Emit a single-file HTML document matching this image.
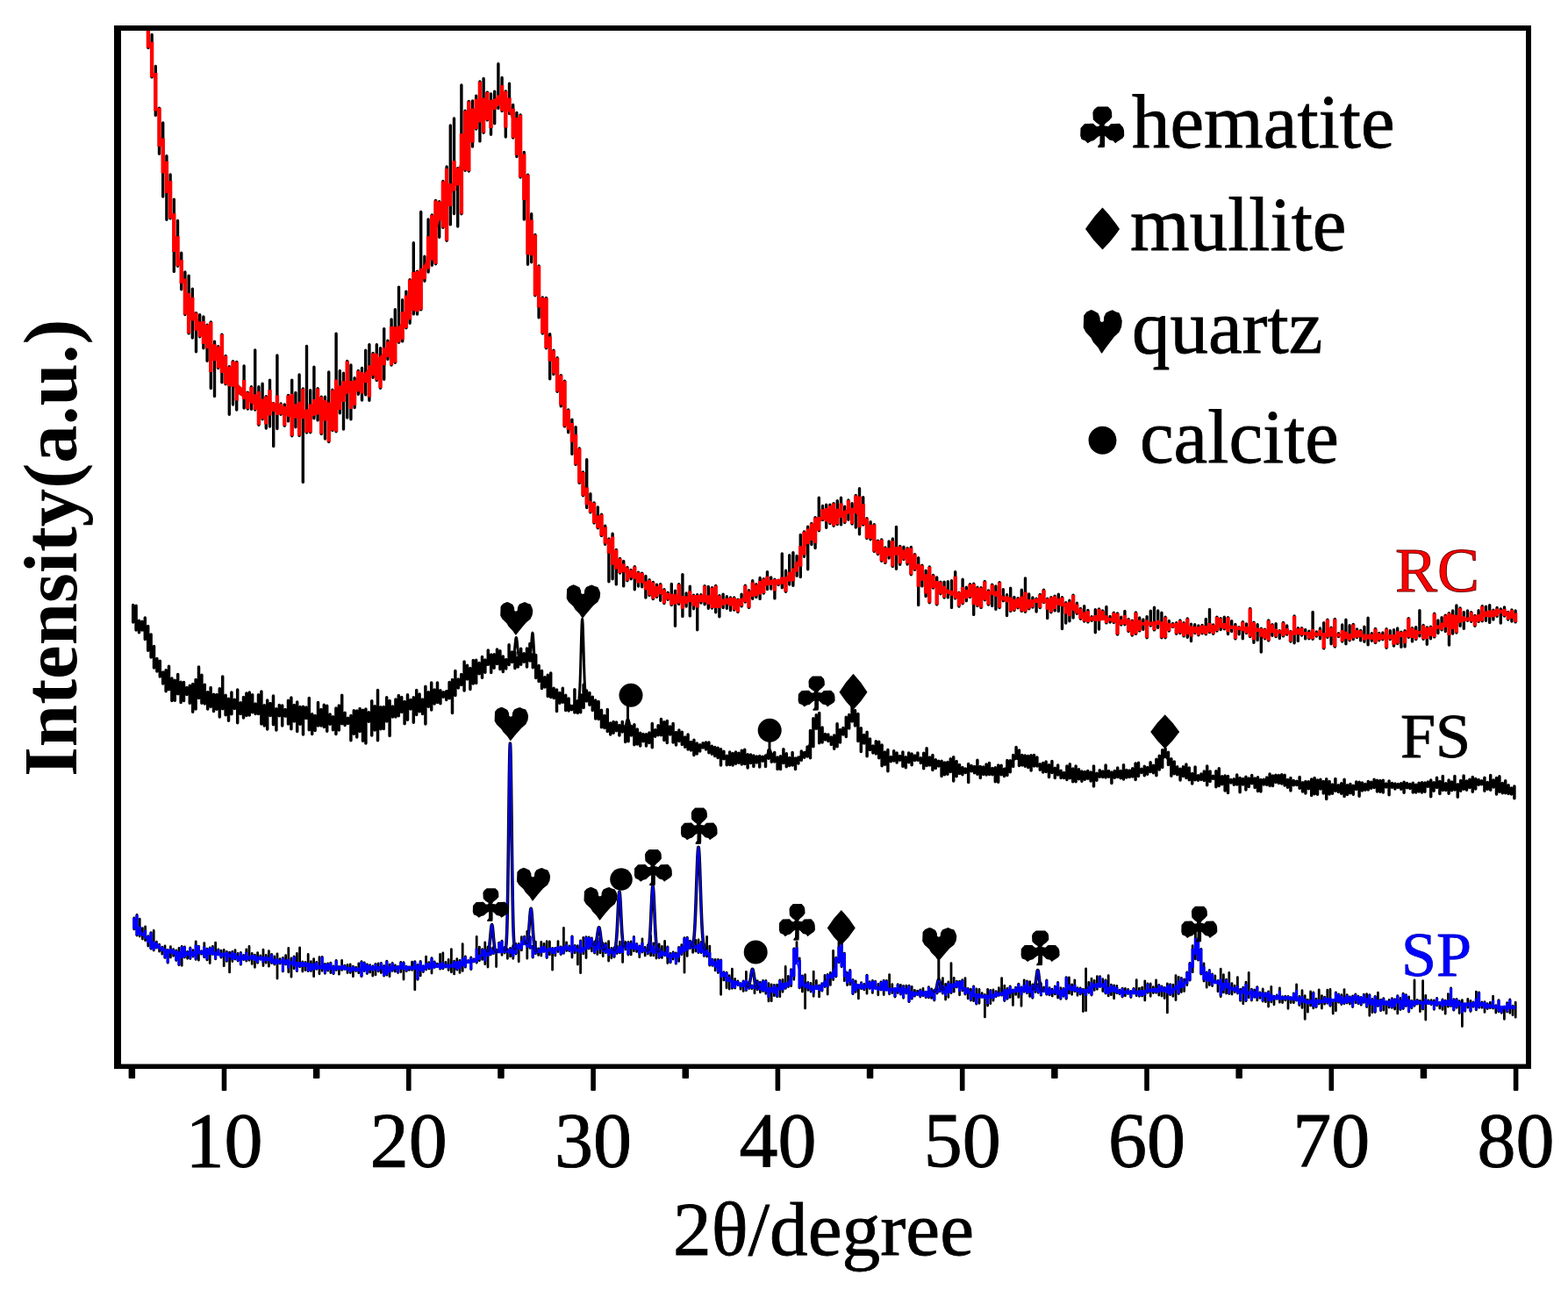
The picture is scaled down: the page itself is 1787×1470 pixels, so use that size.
<!DOCTYPE html>
<html><head><meta charset="utf-8"><style>
html,body{margin:0;padding:0;background:#fff;}
body{width:1787px;height:1470px;overflow:hidden;}
svg{display:block;}
text{font-family:"Liberation Serif","Times New Roman",serif;}
</style></head><body>
<svg width="1787" height="1470" viewBox="0 0 1787 1470">
<rect width="1787" height="1470" fill="#fff"/>
<defs><clipPath id="c"><rect x="134" y="32" width="1608" height="1183"/></clipPath></defs>
<g clip-path="url(#c)" fill="none" stroke-linejoin="round" stroke-linecap="round">
<path d="M152.1 -56.4V-38.9M156.3 -43.9V-13.4M160.5 -28.6V7.6M164.7 -4.1V23.8M168.9 16.5V54.6M173.1 39.4V87.9M177.3 75.5V131.4M181.5 123.1V175.2M185.7 140.0V224.1M189.9 177.8V250.3M194.1 198.9V248.9M198.3 227.3V309.4M202.5 251.5V303.2M206.7 288.2V329.7M210.9 310.0V358.6M215.1 314.1V379.9M219.3 329.3V385.1M223.5 356.6V400.8M227.7 358.8V383.8M231.9 360.9V396.7M236.1 370.1V411.3M240.3 367.0V442.5M244.5 389.1V451.5M248.7 394.7V419.5M252.9 381.1V435.8M257.1 405.5V437.7M261.3 417.7V472.2M265.5 411.6V461.0M269.7 412.5V467.0M273.9 442.1V448.7M278.1 416.9V465.0M282.3 447.3V466.1M286.5 440.8V466.3M290.7 399.0V467.0M294.9 440.7V484.3M299.1 437.2V477.8M303.3 451.6V488.1M307.5 433.1V486.1M311.7 459.6V508.5M315.9 405.0V488.6M320.1 460.0V472.3M324.3 461.0V485.3M328.5 450.5V479.9M332.7 433.1V496.7M336.9 447.5V486.8M341.1 427.0V496.5M345.3 443.0V549.4M349.5 394.5V493.0M353.7 444.8V492.7M357.9 418.3V476.7M362.1 442.8V478.9M366.3 452.3V494.6M370.5 452.3V500.0M374.7 423.9V503.5M378.9 444.3V490.5M383.1 380.3V491.7M387.3 422.5V470.7M391.5 425.1V489.1M395.7 411.5V476.0M399.9 416.0V477.7M404.1 430.6V464.5M408.3 422.4V449.2M412.5 419.5V456.1M416.7 399.2V449.9M420.9 392.6V456.2M425.1 402.5V430.3M429.3 392.7V433.6M433.5 396.8V442.2M437.7 374.6V432.3M441.9 388.1V409.4M446.1 363.9V416.0M450.3 352.7V413.3M454.5 327.1V390.3M458.7 341.8V388.9M462.9 332.1V373.7M467.1 318.6V368.2M471.3 276.8V357.9M475.5 309.1V358.1M479.7 241.5V352.9M483.9 292.3V320.3M488.1 250.0V310.1M492.3 244.9V302.3M496.5 228.4V300.7M500.7 229.7V270.2M504.9 206.5V259.3M509.1 189.9V274.3M513.3 142.9V255.9M517.5 135.0V243.6M521.7 191.6V258.1M525.9 97.0V243.8M530.1 126.3V194.3M534.3 115.4V195.1M538.5 115.0V167.1M542.7 109.1V147.0M546.9 93.0V160.9M551.1 89.4V151.3M555.3 105.1V136.9M559.5 106.9V153.2M563.7 104.1V140.8M567.9 72.7V123.4M572.1 88.5V126.6M576.3 104.0V156.1M580.5 95.2V129.4M584.7 119.4V157.1M588.9 128.4V178.5M593.1 130.9V202.1M597.3 173.5V250.1M601.5 199.1V301.3M605.7 243.8V298.8M609.9 267.5V336.8M614.1 302.9V361.9M618.3 339.0V380.1M622.5 339.4V396.8M626.7 380.8V431.8M630.9 399.2V426.5M635.1 407.8V446.2M639.3 427.6V462.9M643.5 434.1V485.9M647.7 467.0V492.7M651.9 478.1V517.4M656.1 486.6V529.4M660.3 510.9V550.4M664.5 537.9V564.8M668.7 523.8V578.6M672.9 562.6V583.9M677.1 573.0V596.0M681.3 577.9V601.7M685.5 586.3V610.5M689.7 599.3V620.2M693.9 614.0V662.7M698.1 608.3V659.8M702.3 626.5V665.9M706.5 636.5V653.1M710.7 639.5V667.9M714.9 646.4V661.7M719.1 649.4V659.7M723.3 645.8V671.8M727.5 652.2V668.1M731.7 653.1V668.7M735.9 656.5V681.1M740.1 660.8V678.5M744.3 663.4V682.6M748.5 666.2V680.2M752.7 665.8V684.2M756.9 671.8V687.6M761.1 675.1V683.2M765.3 665.5V689.5M769.5 673.3V713.3M773.7 665.8V688.4M777.9 654.6V702.4M782.1 676.0V691.1M786.3 668.2V701.9M790.5 678.1V693.8M794.7 677.7V717.7M798.9 677.7V687.0M803.1 667.6V688.8M807.3 668.4V693.2M811.5 669.7V693.0M815.7 667.5V697.8M819.9 678.7V702.7M824.1 677.1V692.6M828.3 679.8V693.3M832.5 680.9V695.6M836.7 681.0V695.0M840.9 683.3V697.4M845.1 677.1V690.9M849.3 667.3V686.0M853.5 672.6V692.4M857.7 661.8V682.3M861.9 665.8V680.6M866.1 658.5V682.4M870.3 659.6V676.1M874.5 651.6V671.6M878.7 658.0V671.1M882.9 660.1V681.9M887.1 661.2V666.5M891.3 630.9V669.7M895.5 650.3V674.2M899.7 632.7V666.0M903.9 629.6V667.3M908.1 633.4V656.2M912.3 609.4V657.6M916.5 605.9V634.3M920.7 600.1V648.8M924.9 596.5V620.5M929.1 589.7V624.5M933.3 567.1V604.8M937.5 576.4V592.6M941.7 575.2V601.2M945.9 575.2V596.5M950.1 573.6V599.2M954.3 570.6V597.5M958.5 567.2V597.9M962.7 577.3V595.6M966.9 569.9V592.2M971.1 573.7V597.1M975.3 564.5V601.0M979.5 556.8V608.8M983.7 566.6V598.1M987.9 590.8V613.6M992.1 594.7V614.7M996.3 597.7V628.4M1000.5 616.3V631.6M1004.7 614.9V639.2M1008.9 623.9V641.4M1013.1 616.9V636.0M1017.3 613.9V645.5M1021.5 600.4V648.2M1025.7 622.5V643.3M1029.9 623.1V637.5M1034.1 624.6V643.0M1038.3 623.5V654.8M1042.5 631.6V649.2M1046.7 635.6V689.5M1050.9 644.3V667.9M1055.1 650.2V679.5M1059.3 646.0V686.7M1063.5 655.5V670.0M1067.7 657.9V688.9M1071.9 663.2V676.7M1076.1 663.1V681.0M1080.3 662.7V680.9M1084.5 661.8V692.4M1088.7 651.6V681.9M1092.9 675.2V691.0M1097.1 660.3V687.7M1101.3 669.2V684.7M1105.5 665.7V680.4M1109.7 665.3V700.4M1113.9 669.3V690.4M1118.1 669.7V692.4M1122.3 662.5V683.8M1126.5 672.9V689.1M1130.7 666.3V690.4M1134.9 668.0V694.2M1139.1 663.6V692.6M1143.3 671.6V684.8M1147.5 677.6V701.5M1151.7 670.1V696.4M1155.9 680.4V695.6M1160.1 681.7V692.7M1164.3 672.2V696.4M1168.5 658.9V697.3M1172.7 676.9V693.7M1176.9 680.9V692.0M1181.1 682.1V697.1M1185.3 677.5V692.6M1189.5 672.3V686.5M1193.7 682.2V704.6M1197.9 680.6V697.7M1202.1 679.3V695.9M1206.3 677.3V696.6M1210.5 680.7V716.5M1214.7 686.8V710.0M1218.9 684.2V707.8M1223.1 678.1V704.0M1227.3 687.3V699.3M1231.5 693.5V705.3M1235.7 690.8V708.1M1239.9 695.4V708.9M1244.1 702.7V707.3M1248.3 694.7V720.8M1252.5 693.9V717.0M1256.7 695.9V705.4M1260.9 691.5V709.9M1265.1 702.4V709.1M1269.3 698.3V709.6M1273.5 699.0V723.1M1277.7 703.3V712.1M1281.9 696.4V711.7M1286.1 705.5V719.6M1290.3 707.1V724.1M1294.5 698.0V722.2M1298.7 704.0V718.9M1302.9 706.0V717.2M1307.1 702.6V726.8M1311.3 696.1V713.0M1315.5 692.2V717.9M1319.7 696.0V715.3M1323.9 698.3V726.8M1328.1 703.2V726.7M1332.3 707.5V719.1M1336.5 710.5V714.4M1340.7 709.7V722.2M1344.9 706.9V721.6M1349.1 709.7V724.9M1353.3 705.0V726.2M1357.5 711.3V730.6M1361.7 711.8V721.5M1365.9 712.9V723.7M1370.1 712.5V721.7M1374.3 705.4V722.7M1378.5 694.5V720.6M1382.7 712.0V722.2M1386.9 703.1V719.1M1391.1 704.6V717.6M1395.3 703.3V716.7M1399.5 703.6V722.5M1403.7 707.6V719.5M1407.9 711.5V727.9M1412.1 714.6V722.7M1416.3 708.8V727.7M1420.5 710.9V721.5M1424.7 693.5V725.6M1428.9 709.1V732.2M1433.1 711.6V729.6M1437.3 716.1V743.1M1441.5 717.2V727.8M1445.7 707.0V729.9M1449.9 711.6V724.3M1454.1 710.8V725.6M1458.3 718.6V727.4M1462.5 709.5V724.9M1466.7 712.9V723.0M1470.9 719.5V731.1M1475.1 702.0V732.8M1479.3 715.7V730.4M1483.5 715.6V724.0M1487.7 717.5V727.9M1491.9 719.3V727.7M1496.1 697.5V728.2M1500.3 719.9V725.1M1504.5 715.9V727.8M1508.7 709.7V738.9M1512.9 706.1V726.2M1517.1 715.2V733.7M1521.3 705.5V737.0M1525.5 721.7V725.4M1529.7 711.9V731.0M1533.9 706.2V733.8M1538.1 712.7V729.8M1542.3 711.4V728.5M1546.5 716.9V726.4M1550.7 718.5V729.9M1554.9 714.2V731.2M1559.1 704.2V734.8M1563.3 721.6V730.3M1567.5 716.5V732.6M1571.7 721.5V729.7M1575.9 721.0V728.7M1580.1 716.7V738.2M1584.3 718.8V728.6M1588.5 717.6V736.0M1592.7 716.0V733.5M1596.9 720.2V737.3M1601.1 718.6V736.9M1605.3 704.6V726.3M1609.5 715.6V730.9M1613.7 714.7V728.5M1617.9 695.8V724.9M1622.1 712.4V728.3M1626.3 715.0V734.2M1630.5 714.2V727.7M1634.7 699.2V725.9M1638.9 706.9V721.6M1643.1 703.6V717.8M1647.3 701.3V719.6M1651.5 698.6V735.0M1655.7 695.9V722.0M1659.9 690.0V721.1M1664.1 692.9V713.2M1668.3 697.6V716.2M1672.5 695.9V707.2M1676.7 697.6V708.3M1680.9 701.4V713.3M1685.1 695.8V708.4M1689.3 690.8V707.8M1693.5 691.1V707.2M1697.7 689.6V709.4M1701.9 695.2V706.0M1706.1 692.4V702.3M1710.3 693.9V710.1M1714.5 692.0V702.1M1718.7 697.5V706.0M1722.9 694.9V708.0M1727.1 695.9V708.9" stroke="#000" stroke-width="3.4" stroke-linecap="round"/>
<polygon points="152.1,-42.3 156.3,-28.2 160.5,-8.6 164.7,13.4 168.9,39.0 173.1,69.8 177.3,104.9 181.5,141.4 185.7,175.5 189.9,204.6 194.1,230.9 198.3,257.5 202.5,283.1 206.7,306.0 210.9,325.3 215.1,339.8 219.3,350.6 223.5,359.8 227.7,368.2 231.9,375.8 236.1,383.2 240.3,390.3 244.5,397.4 248.7,404.2 252.9,410.9 257.1,417.3 261.3,423.5 265.5,429.4 269.7,435.1 273.9,440.2 278.1,444.2 282.3,447.2 286.5,449.6 290.7,451.8 294.9,453.6 299.1,455.1 303.3,456.3 307.5,457.5 311.7,458.8 315.9,460.2 320.1,461.7 324.3,463.3 328.5,464.7 332.7,465.8 336.9,466.5 341.1,467.0 345.3,467.1 349.5,466.4 353.7,465.1 357.9,463.5 362.1,462.2 366.3,461.5 370.5,461.1 374.7,460.0 378.9,457.0 383.1,452.5 387.3,447.3 391.5,442.3 395.7,438.4 399.9,435.7 404.1,433.6 408.3,431.2 412.5,427.9 416.7,423.7 420.9,419.1 425.1,414.5 429.3,410.1 433.5,405.6 437.7,400.9 441.9,395.3 446.1,388.6 450.3,381.0 454.5,373.1 458.7,364.9 462.9,356.5 467.1,347.4 471.3,336.9 475.5,325.3 479.7,313.7 483.9,301.8 488.1,287.7 492.3,271.2 496.5,254.7 500.7,241.0 504.9,229.9 509.1,220.6 513.3,212.5 517.5,204.5 521.7,194.5 525.9,181.5 530.1,166.4 534.3,151.0 538.5,137.0 542.7,126.3 546.9,119.7 551.1,116.1 555.3,114.6 559.5,114.0 563.7,112.4 567.9,109.7 572.1,108.2 576.3,110.7 580.5,117.5 584.7,128.4 588.9,144.6 593.1,168.2 597.3,198.8 601.5,232.7 605.7,267.2 609.9,299.8 614.1,327.9 618.3,351.0 622.5,371.4 626.7,391.0 630.9,410.2 635.1,428.7 639.3,446.5 643.5,463.2 647.7,478.2 651.9,492.6 656.1,508.7 660.3,527.2 664.5,545.8 668.7,561.6 672.9,573.4 677.1,582.0 681.3,589.3 685.5,597.9 689.7,608.5 693.9,619.8 698.1,629.7 702.3,637.1 706.5,642.3 710.7,646.4 714.9,649.7 719.1,652.5 723.3,655.0 727.5,657.5 731.7,660.0 735.9,662.7 740.1,665.4 744.3,668.1 748.5,670.6 752.7,672.7 756.9,674.3 761.1,675.7 765.3,676.9 769.5,677.8 773.7,678.5 777.9,679.0 782.1,679.5 786.3,680.0 790.5,680.5 794.7,681.0 798.9,681.4 803.1,681.7 807.3,682.1 811.5,682.5 815.7,682.9 819.9,683.1 824.1,683.1 828.3,683.2 832.5,683.1 836.7,683.1 840.9,682.8 845.1,681.7 849.3,679.1 853.5,674.9 857.7,670.4 861.9,666.8 866.1,664.5 870.3,663.1 874.5,662.0 878.7,661.2 882.9,660.5 887.1,659.9 891.3,658.9 895.5,657.2 899.7,654.2 903.9,649.2 908.1,641.2 912.3,631.0 916.5,620.9 920.7,612.1 924.9,604.4 929.1,597.4 933.3,591.2 937.5,585.9 941.7,582.2 945.9,581.4 950.1,582.8 954.3,584.1 958.5,583.6 962.7,581.6 966.9,579.5 971.1,578.4 975.3,579.6 979.5,583.7 983.7,589.8 987.9,596.9 992.1,604.6 996.3,612.0 1000.5,618.2 1004.7,622.5 1008.9,624.5 1013.1,624.4 1017.3,623.5 1021.5,623.3 1025.7,624.5 1029.9,626.7 1034.1,629.7 1038.3,634.3 1042.5,640.6 1046.7,647.2 1050.9,652.5 1055.1,656.4 1059.3,659.6 1063.5,662.6 1067.7,665.3 1071.9,667.8 1076.1,670.1 1080.3,671.8 1084.5,673.0 1088.7,673.8 1092.9,674.5 1097.1,674.9 1101.3,675.1 1105.5,675.1 1109.7,675.0 1113.9,674.7 1118.1,674.2 1122.3,673.6 1126.5,673.2 1130.7,673.5 1134.9,675.0 1139.1,677.3 1143.3,679.3 1147.5,680.9 1151.7,682.1 1155.9,683.1 1160.1,683.6 1164.3,683.6 1168.5,683.4 1172.7,683.1 1176.9,682.9 1181.1,682.7 1185.3,682.7 1189.5,682.9 1193.7,683.3 1197.9,683.7 1202.1,684.5 1206.3,685.5 1210.5,686.8 1214.7,688.2 1218.9,689.7 1223.1,691.7 1227.3,694.4 1231.5,697.7 1235.7,700.7 1239.9,702.5 1244.1,703.1 1248.3,703.0 1252.5,702.7 1256.7,702.7 1260.9,703.2 1265.1,703.9 1269.3,704.7 1273.5,705.6 1277.7,706.4 1281.9,707.1 1286.1,707.7 1290.3,708.2 1294.5,708.6 1298.7,708.9 1302.9,708.9 1307.1,708.7 1311.3,708.4 1315.5,708.1 1319.7,708.2 1323.9,708.6 1328.1,709.3 1332.3,710.1 1336.5,710.9 1340.7,711.5 1344.9,712.1 1349.1,712.7 1353.3,713.3 1357.5,713.8 1361.7,714.2 1365.9,714.2 1370.1,713.8 1374.3,713.3 1378.5,712.7 1382.7,712.2 1386.9,711.7 1391.1,711.6 1395.3,711.8 1399.5,712.3 1403.7,712.8 1407.9,713.4 1412.1,714.0 1416.3,714.5 1420.5,714.9 1424.7,715.3 1428.9,715.7 1433.1,716.0 1437.3,716.3 1441.5,716.7 1445.7,717.0 1449.9,717.3 1454.1,717.7 1458.3,718.0 1462.5,718.3 1466.7,718.6 1470.9,718.9 1475.1,719.1 1479.3,719.4 1483.5,719.6 1487.7,719.9 1491.9,720.1 1496.1,720.4 1500.3,720.6 1504.5,720.9 1508.7,721.1 1512.9,721.4 1517.1,721.5 1521.3,721.7 1525.5,721.7 1529.7,721.8 1533.9,721.9 1538.1,722.0 1542.3,722.1 1546.5,722.3 1550.7,722.4 1554.9,722.6 1559.1,722.8 1563.3,722.9 1567.5,723.0 1571.7,723.0 1575.9,723.0 1580.1,723.0 1584.3,723.0 1588.5,722.9 1592.7,722.7 1596.9,722.2 1601.1,721.7 1605.3,721.1 1609.5,720.5 1613.7,719.8 1617.9,718.9 1622.1,717.8 1626.3,716.5 1630.5,715.3 1634.7,714.0 1638.9,712.7 1643.1,711.5 1647.3,710.4 1651.5,709.2 1655.7,708.0 1659.9,706.9 1664.1,705.8 1668.3,704.6 1672.5,703.5 1676.7,702.4 1680.9,701.3 1685.1,700.2 1689.3,699.1 1693.5,698.0 1697.7,697.0 1701.9,696.0 1706.1,695.1 1710.3,694.8 1714.5,695.4 1718.7,696.9 1722.9,698.6 1727.1,699.8 1727.1,703.7 1722.9,702.5 1718.7,700.8 1714.5,699.3 1710.3,698.7 1706.1,699.0 1701.9,699.9 1697.7,700.9 1693.5,701.9 1689.3,703.0 1685.1,704.1 1680.9,705.2 1676.7,706.3 1672.5,707.4 1668.3,708.5 1664.1,709.7 1659.9,710.8 1655.7,711.9 1651.5,713.1 1647.3,714.3 1643.1,715.4 1638.9,716.6 1634.7,717.9 1630.5,719.2 1626.3,720.4 1622.1,721.7 1617.9,722.8 1613.7,723.7 1609.5,724.4 1605.3,725.0 1601.1,725.6 1596.9,726.1 1592.7,726.6 1588.5,726.8 1584.3,726.9 1580.1,726.9 1575.9,726.9 1571.7,726.9 1567.5,726.9 1563.3,726.8 1559.1,726.7 1554.9,726.5 1550.7,726.3 1546.5,726.2 1542.3,726.0 1538.1,725.9 1533.9,725.8 1529.7,725.7 1525.5,725.6 1521.3,725.6 1517.1,725.4 1512.9,725.3 1508.7,725.0 1504.5,724.8 1500.3,724.5 1496.1,724.3 1491.9,724.0 1487.7,723.8 1483.5,723.5 1479.3,723.3 1475.1,723.0 1470.9,722.8 1466.7,722.5 1462.5,722.2 1458.3,721.9 1454.1,721.6 1449.9,721.2 1445.7,720.9 1441.5,720.6 1437.3,720.2 1433.1,719.9 1428.9,719.6 1424.7,719.2 1420.5,718.8 1416.3,718.4 1412.1,717.9 1407.9,717.3 1403.7,716.7 1399.5,716.2 1395.3,715.7 1391.1,715.5 1386.9,715.6 1382.7,716.1 1378.5,716.6 1374.3,717.2 1370.1,717.7 1365.9,718.1 1361.7,718.1 1357.5,717.7 1353.3,717.2 1349.1,716.6 1344.9,716.0 1340.7,715.4 1336.5,714.8 1332.3,714.0 1328.1,713.2 1323.9,712.5 1319.7,712.1 1315.5,712.0 1311.3,712.3 1307.1,712.6 1302.9,712.8 1298.7,712.8 1294.5,712.6 1290.3,712.2 1286.1,711.7 1281.9,711.1 1277.7,710.4 1273.5,709.6 1269.3,708.7 1265.1,707.9 1260.9,707.2 1256.7,706.8 1252.5,706.8 1248.3,707.1 1244.1,707.2 1239.9,706.7 1235.7,704.8 1231.5,701.8 1227.3,698.6 1223.1,695.9 1218.9,693.9 1214.7,692.4 1210.5,691.0 1206.3,689.8 1202.1,688.7 1197.9,688.1 1193.7,687.6 1189.5,687.2 1185.3,687.0 1181.1,687.0 1176.9,687.2 1172.7,687.5 1168.5,687.8 1164.3,688.0 1160.1,688.0 1155.9,687.5 1151.7,686.6 1147.5,685.4 1143.3,683.9 1139.1,681.8 1134.9,679.6 1130.7,678.1 1126.5,677.8 1122.3,678.3 1118.1,678.9 1113.9,679.5 1109.7,679.8 1105.5,680.0 1101.3,680.0 1097.1,679.9 1092.9,679.5 1088.7,678.8 1084.5,678.0 1080.3,676.8 1076.1,675.2 1071.9,673.0 1067.7,670.5 1063.5,667.8 1059.3,664.9 1055.1,661.7 1050.9,657.8 1046.7,652.5 1042.5,645.9 1038.3,639.7 1034.1,635.2 1029.9,632.1 1025.7,630.0 1021.5,628.8 1017.3,629.0 1013.1,630.0 1008.9,630.2 1004.7,628.2 1000.5,623.9 996.3,617.7 992.1,610.3 987.9,602.6 983.7,595.5 979.5,589.4 975.3,585.3 971.1,584.1 966.9,585.2 962.7,587.3 958.5,589.3 954.3,589.8 950.1,588.5 945.9,587.1 941.7,587.9 937.5,591.6 933.3,596.9 929.1,603.1 924.9,610.1 920.7,617.8 916.5,626.6 912.3,636.7 908.1,646.9 903.9,654.9 899.7,659.9 895.5,662.8 891.3,664.5 887.1,665.5 882.9,666.1 878.7,666.7 874.5,667.5 870.3,668.5 866.1,669.9 861.9,672.2 857.7,675.8 853.5,680.2 849.3,684.3 845.1,687.0 840.9,688.0 836.7,688.2 832.5,688.3 828.3,688.2 824.1,688.2 819.9,688.1 815.7,687.8 811.5,687.5 807.3,687.0 803.1,686.6 798.9,686.2 794.7,685.7 790.5,685.3 786.3,684.8 782.1,684.2 777.9,683.7 773.7,683.1 769.5,682.4 765.3,681.4 761.1,680.2 756.9,678.8 752.7,677.2 748.5,675.1 744.3,672.7 740.1,670.0 735.9,667.2 731.7,664.6 727.5,662.1 723.3,659.7 719.1,657.2 714.9,654.4 710.7,651.1 706.5,647.0 702.3,641.8 698.1,634.5 693.9,624.5 689.7,613.3 685.5,602.6 681.3,594.1 677.1,586.8 672.9,578.4 668.7,566.6 664.5,551.0 660.3,532.5 656.1,514.1 651.9,498.1 647.7,483.8 643.5,468.9 639.3,452.3 635.1,434.5 630.9,416.2 626.7,397.6 622.5,378.6 618.3,358.9 614.1,336.5 609.9,309.0 605.7,277.1 601.5,243.3 597.3,209.6 593.1,179.1 588.9,155.5 584.7,139.3 580.5,128.5 576.3,121.7 572.1,119.2 567.9,120.7 563.7,123.5 559.5,125.1 555.3,125.7 551.1,127.3 546.9,130.9 542.7,137.5 538.5,148.3 534.3,162.3 530.1,177.7 525.9,192.8 521.7,205.9 517.5,215.8 513.3,223.7 509.1,231.7 504.9,240.8 500.7,251.8 496.5,265.4 492.3,281.7 488.1,298.2 483.9,312.1 479.7,323.9 475.5,335.5 471.3,347.1 467.1,357.6 462.9,366.7 458.7,375.1 454.5,383.3 450.3,391.2 446.1,398.8 441.9,405.5 437.7,411.1 433.5,415.8 429.3,420.3 425.1,424.7 420.9,429.3 416.7,433.9 412.5,438.1 408.3,441.4 404.1,443.8 399.9,445.9 395.7,448.6 391.5,452.5 387.3,457.5 383.1,462.7 378.9,467.2 374.7,470.2 370.5,471.3 366.3,471.7 362.1,472.4 357.9,473.7 353.7,475.3 349.5,476.6 345.3,477.3 341.1,477.2 336.9,476.7 332.7,476.0 328.5,474.9 324.3,473.5 320.1,471.9 315.9,470.4 311.7,469.0 307.5,467.7 303.3,466.5 299.1,465.3 294.9,463.8 290.7,461.9 286.5,459.7 282.3,457.3 278.1,454.2 273.9,450.2 269.7,445.1 265.5,439.3 261.3,433.4 257.1,427.1 252.9,420.7 248.7,414.0 244.5,407.1 240.3,400.0 236.1,392.8 231.9,385.5 227.7,377.5 223.5,368.6 219.3,358.8 215.1,347.4 210.9,332.3 206.7,312.4 202.5,288.9 198.3,262.8 194.1,235.7 189.9,208.8 185.7,179.4 181.5,144.9 177.3,108.1 173.1,72.7 168.9,41.6 164.7,15.7 160.5,-6.7 156.3,-26.5 152.1,-40.9" fill="#ff0000" stroke="none"/>
<path d="M152.1 -56.2V-38.9M156.3 -43.9V-17.6M160.5 -23.2V7.6M164.7 -0.1V23.8M168.9 22.1V54.6M173.1 47.7V87.9M177.3 82.9V126.5M181.5 123.1V166.9M185.7 157.6V197.4M189.9 183.7V220.1M194.1 205.9V248.9M198.3 243.2V287.1M202.5 269.2V303.2M206.7 295.9V323.0M210.9 317.5V358.6M215.1 334.0V379.9M219.3 338.8V365.5M223.5 356.6V376.8M227.7 366.5V383.8M231.9 366.1V392.0M236.1 370.1V397.3M240.3 367.0V423.9M244.5 392.3V411.3M248.7 394.7V419.5M252.9 381.1V425.0M257.1 405.5V437.7M261.3 417.7V440.3M265.5 411.6V440.7M269.7 412.5V456.6M273.9 442.5V448.7M278.1 433.1V455.0M282.3 447.3V466.1M286.5 441.0V456.6M290.7 449.3V467.0M294.9 445.9V484.3M299.1 454.5V477.6M303.3 451.6V483.6M307.5 444.2V473.5M311.7 459.6V466.3M315.9 450.6V473.1M320.1 460.0V472.3M324.3 463.3V485.3M328.5 450.5V472.6M332.7 448.8V496.7M336.9 460.2V472.6M341.1 457.7V496.5M345.3 443.0V475.5M349.5 469.1V493.0M353.7 460.4V492.7M357.9 455.1V471.4M362.1 442.8V469.0M366.3 452.3V494.6M370.5 455.7V479.4M374.7 458.5V503.5M378.9 444.5V490.5M383.1 432.6V491.7M387.3 439.2V466.9M391.5 434.2V458.0M395.7 411.5V447.5M399.9 433.9V466.1M404.1 433.7V461.9M408.3 422.4V446.3M412.5 424.0V448.5M416.7 426.3V436.2M420.9 416.2V452.4M425.1 402.5V427.9M429.3 402.9V433.3M433.5 407.0V442.2M437.7 395.9V416.2M441.9 389.3V406.7M446.1 371.9V416.0M450.3 372.2V413.3M454.5 371.4V390.3M458.7 355.3V387.0M462.9 336.6V373.7M467.1 318.6V364.2M471.3 310.1V354.3M475.5 309.1V355.2M479.7 305.7V352.9M483.9 301.7V318.2M488.1 269.3V306.6M492.3 244.9V296.8M496.5 228.4V300.7M500.7 229.7V251.2M504.9 206.5V259.3M509.1 191.9V274.3M513.3 209.1V234.9M517.5 183.2V217.4M521.7 191.6V211.6M525.9 152.2V243.8M530.1 126.3V194.3M534.3 115.4V195.1M538.5 123.4V162.5M542.7 112.8V147.0M546.9 93.0V139.5M551.1 111.6V151.3M555.3 105.1V136.9M559.5 114.0V145.9M563.7 117.1V125.0M567.9 108.4V118.5M572.1 96.9V126.6M576.3 104.0V145.4M580.5 111.6V127.0M584.7 123.7V157.1M588.9 133.9V176.7M593.1 130.9V202.1M597.3 175.4V227.9M601.5 199.1V290.3M605.7 250.6V291.3M609.9 267.5V336.8M614.1 302.9V350.6M618.3 339.0V380.1M622.5 339.4V396.8M626.7 383.5V411.8M630.9 399.2V425.5M635.1 407.8V446.2M639.3 427.6V461.5M643.5 434.1V485.9M647.7 467.0V489.8M651.9 481.9V503.8M656.1 494.9V529.4M660.3 510.9V550.4M664.5 537.9V564.8M668.7 555.5V575.3M672.9 571.0V583.9M677.1 573.0V596.0M681.3 587.5V601.7M685.5 586.3V610.5M689.7 600.6V619.4M693.9 614.0V630.7M698.1 611.5V643.7M702.3 626.5V648.5M706.5 636.5V653.1M710.7 642.4V652.3M714.9 646.4V661.7M719.1 649.4V658.3M723.3 645.8V659.4M727.5 652.2V664.6M731.7 653.1V663.8M735.9 662.7V672.2M740.1 660.8V678.5M744.3 663.4V682.6M748.5 668.1V680.2M752.7 665.8V677.1M756.9 671.8V687.6M761.1 676.5V683.2M765.3 676.7V689.5M769.5 677.3V688.7M773.7 665.8V687.5M777.9 680.5V693.7M782.1 679.8V688.3M786.3 673.6V686.3M790.5 678.1V690.6M794.7 678.0V692.5M798.9 677.7V685.4M803.1 667.6V684.6M807.3 678.2V688.8M811.5 669.7V693.0M815.7 667.5V693.1M819.9 678.7V693.1M824.1 682.5V689.9M828.3 681.8V688.6M832.5 680.9V690.6M836.7 681.0V695.0M840.9 683.9V697.4M845.1 683.2V690.6M849.3 667.3V686.0M853.5 673.8V692.4M857.7 663.6V680.0M861.9 666.4V679.3M866.1 662.1V677.4M870.3 659.6V676.1M874.5 656.7V665.6M878.7 660.7V666.1M882.9 660.1V673.5M887.1 661.7V666.5M891.3 657.5V665.7M895.5 657.8V674.2M899.7 651.7V662.8M903.9 647.6V662.2M908.1 639.9V651.4M912.3 622.3V645.7M916.5 605.9V632.4M920.7 602.4V620.0M924.9 596.5V616.1M929.1 589.7V618.9M933.3 589.1V604.8M937.5 580.3V592.6M941.7 579.1V594.5M945.9 576.3V596.5M950.1 573.6V599.2M954.3 579.7V597.5M958.5 573.4V590.0M962.7 582.8V595.6M966.9 569.9V585.5M971.1 579.3V597.1M975.3 564.5V584.0M979.5 565.6V600.9M983.7 574.3V598.1M987.9 590.8V613.6M992.1 597.8V614.0M996.3 597.7V628.4M1000.5 616.3V631.6M1004.7 614.9V639.2M1008.9 623.9V641.4M1013.1 624.3V633.9M1017.3 616.2V645.5M1021.5 623.3V632.8M1025.7 622.5V642.2M1029.9 626.8V637.5M1034.1 624.6V642.0M1038.3 624.6V654.8M1042.5 631.6V649.2M1046.7 642.5V668.7M1050.9 644.3V661.8M1055.1 654.3V676.4M1059.3 646.0V686.7M1063.5 655.5V670.0M1067.7 662.1V688.9M1071.9 663.2V676.7M1076.1 667.8V681.0M1080.3 672.9V676.1M1084.5 674.4V678.7M1088.7 656.7V681.9M1092.9 675.2V691.0M1097.1 669.0V687.7M1101.3 671.9V682.2M1105.5 665.7V680.4M1109.7 665.3V689.0M1113.9 669.4V690.4M1118.1 669.7V692.4M1122.3 662.5V683.8M1126.5 674.7V689.1M1130.7 666.3V675.8M1134.9 673.4V679.5M1139.1 663.6V692.6M1143.3 679.9V684.3M1147.5 679.2V686.2M1151.7 680.6V696.4M1155.9 682.8V695.6M1160.1 681.7V692.7M1164.3 679.4V696.4M1168.5 674.6V697.3M1172.7 683.5V693.7M1176.9 683.4V692.0M1181.1 682.1V686.0M1185.3 677.5V692.6M1189.5 672.3V686.5M1193.7 682.2V694.8M1197.9 680.6V697.7M1202.1 679.3V694.1M1206.3 681.7V689.0M1210.5 680.7V690.9M1214.7 686.8V699.5M1218.9 685.7V702.3M1223.1 678.1V694.6M1227.3 688.7V699.3M1231.5 693.5V705.3M1235.7 697.4V708.1M1239.9 696.2V708.9M1244.1 702.7V707.3M1248.3 701.0V707.8M1252.5 693.9V708.0M1256.7 695.9V705.4M1260.9 701.3V709.9M1265.1 705.3V706.5M1269.3 698.3V709.6M1273.5 699.0V723.1M1277.7 705.7V712.1M1281.9 701.1V711.5M1286.1 705.5V719.6M1290.3 707.1V724.1M1294.5 698.0V722.2M1298.7 706.4V718.9M1302.9 709.2V711.9M1307.1 706.4V726.8M1311.3 709.0V713.0M1315.5 709.4V717.9M1319.7 706.7V711.5M1323.9 708.7V726.8M1328.1 703.2V726.7M1332.3 710.7V719.1M1336.5 710.6V714.4M1340.7 709.7V722.2M1344.9 706.9V721.6M1349.1 709.7V724.9M1353.3 705.0V722.9M1357.5 713.3V725.5M1361.7 714.3V721.5M1365.9 713.9V723.7M1370.1 712.5V721.7M1374.3 713.2V722.7M1378.5 710.1V720.6M1382.7 712.0V722.2M1386.9 703.1V719.1M1391.1 704.6V714.0M1395.3 710.0V716.7M1399.5 703.6V720.3M1403.7 713.0V716.6M1407.9 712.7V727.9M1412.1 714.6V718.0M1416.3 708.8V719.3M1420.5 714.1V721.5M1424.7 693.5V725.6M1428.9 709.1V728.9M1433.1 715.6V720.1M1437.3 716.1V725.8M1441.5 717.2V727.8M1445.7 707.0V729.9M1449.9 711.6V720.7M1454.1 716.4V725.6M1458.3 719.5V720.2M1462.5 709.5V724.9M1466.7 715.9V722.7M1470.9 719.6V731.1M1475.1 702.0V723.7M1479.3 716.2V722.4M1483.5 715.6V724.0M1487.7 721.5V722.3M1491.9 721.7V727.7M1496.1 716.7V728.2M1500.3 721.6V725.1M1504.5 717.8V723.6M1508.7 721.6V738.9M1512.9 706.1V726.2M1517.1 715.2V724.8M1521.3 705.5V737.0M1525.5 722.7V723.8M1529.7 718.1V731.0M1533.9 719.8V728.3M1538.1 722.8V729.8M1542.3 711.4V727.4M1546.5 718.1V726.4M1550.7 718.5V725.3M1554.9 723.3V729.6M1559.1 724.4V728.4M1563.3 722.6V728.8M1567.5 716.5V732.6M1571.7 721.5V729.7M1575.9 722.7V728.7M1580.1 716.7V738.2M1584.3 723.8V728.6M1588.5 724.4V734.7M1592.7 719.3V733.5M1596.9 720.2V725.5M1601.1 719.2V733.2M1605.3 704.6V726.3M1609.5 715.6V727.1M1613.7 717.8V728.5M1617.9 719.1V722.0M1622.1 712.4V728.3M1626.3 715.0V728.2M1630.5 714.2V724.7M1634.7 699.2V725.9M1638.9 712.6V716.4M1643.1 709.5V717.8M1647.3 701.3V715.0M1651.5 698.6V724.0M1655.7 700.2V717.0M1659.9 700.8V721.1M1664.1 692.9V708.9M1668.3 702.3V708.1M1672.5 704.8V707.2M1676.7 697.6V708.3M1680.9 702.0V713.3M1685.1 700.2V708.4M1689.3 690.8V707.8M1693.5 696.6V703.0M1697.7 695.5V703.4M1701.9 695.2V703.2M1706.1 693.4V702.3M1710.3 695.2V698.9M1714.5 694.0V702.1M1718.7 697.6V706.0M1722.9 694.9V704.8M1727.1 698.5V708.9" stroke="#ff0000" stroke-width="4.4" stroke-linecap="butt"/>
<path d="M151.7 689.4V708.9M155.1 690.3V718.1M158.5 707.2V720.8M161.9 708.2V718.0M165.3 703.9V728.4M168.7 713.4V741.2M172.1 723.1V748.9M175.5 736.5V760.9M178.9 750.6V765.0M182.3 753.3V771.0M185.7 766.1V778.9M189.1 763.7V787.8M192.5 759.3V785.7M195.9 772.9V798.6M199.3 775.3V798.2M202.7 768.6V790.7M206.1 777.3V800.4M209.5 777.6V798.5M212.9 783.4V791.4M216.3 781.2V801.2M219.7 779.5V811.2M223.1 774.4V808.0M226.5 760.1V795.5M229.9 769.2V801.3M233.3 780.2V802.0M236.7 788.7V807.9M240.1 783.4V805.3M243.5 791.2V810.6M246.9 791.6V808.3M250.3 784.8V817.0M253.7 770.9V807.7M257.1 792.3V814.7M260.5 796.3V821.2M263.9 788.9V813.7M267.3 797.2V807.4M270.7 785.9V823.7M274.1 800.7V813.6M277.5 794.5V818.0M280.9 789.9V815.5M284.3 789.0V815.0M287.7 791.7V811.7M291.1 801.9V813.5M294.5 791.8V813.6M297.9 787.9V824.9M301.3 803.7V827.1M304.7 798.0V831.0M308.1 801.5V815.4M311.5 793.0V825.7M314.9 807.7V831.9M318.3 803.4V815.7M321.7 804.0V827.0M325.1 808.4V816.0M328.5 798.3V824.9M331.9 795.0V830.8M335.3 803.5V822.0M338.7 800.1V833.4M342.1 805.6V825.3M345.5 805.2V837.0M348.9 806.1V818.2M352.3 795.5V831.8M355.7 813.8V836.4M359.1 815.5V832.6M362.5 800.6V827.0M365.9 808.4V827.1M369.3 803.2V828.5M372.7 804.2V833.3M376.1 814.0V825.3M379.5 816.8V831.8M382.9 807.0V836.4M386.3 804.1V831.9M389.7 792.2V824.8M393.1 812.3V826.5M396.5 818.2V824.4M399.9 815.4V843.8M403.3 809.7V836.3M406.7 810.0V840.0M410.1 807.5V833.4M413.5 809.3V844.2M416.9 807.9V847.0M420.3 811.8V822.2M423.7 798.7V838.0M427.1 804.8V831.9M430.5 786.6V843.8M433.9 805.7V830.8M437.3 805.6V830.6M440.7 794.8V821.9M444.1 798.4V838.6M447.5 804.9V817.0M450.9 797.0V817.1M454.3 792.4V815.8M457.7 794.5V811.6M461.1 799.4V824.8M464.5 791.8V820.2M467.9 797.4V808.1M471.3 794.7V823.3M474.7 786.6V814.6M478.1 791.1V810.7M481.5 797.1V813.4M484.9 782.3V825.1M488.3 788.8V805.2M491.7 777.9V808.9M495.1 786.0V801.9M498.5 777.9V800.4M501.9 786.8V801.8M505.3 788.7V794.2M508.7 787.8V797.4M512.1 777.5V795.8M515.5 774.5V812.4M518.9 764.4V792.5M522.3 774.1V784.0M525.7 768.6V780.4M529.1 754.1V787.0M532.5 758.3V774.0M535.9 761.6V785.4M539.3 752.4V779.0M542.7 752.2V778.5M546.1 755.4V767.7M549.5 748.4V772.2M552.9 752.1V766.2M556.3 741.1V757.3M559.7 745.9V766.4M563.1 745.7V761.3M566.5 740.0V756.6M569.9 741.7V762.4M573.3 748.0V765.4M576.7 751.4V762.0M580.1 734.8V757.6M583.5 743.0V754.4M586.9 743.6V761.5M590.3 749.3V759.9M593.7 739.3V757.2M597.1 744.8V754.3M600.5 739.1V760.1M603.9 733.6V753.0M607.3 745.8V760.8M610.7 746.4V772.5M614.1 758.6V776.5M617.5 764.5V784.4M620.9 771.8V783.1M624.3 769.3V793.6M627.7 767.0V794.5M631.1 784.2V795.4M634.5 786.0V810.5M637.9 789.6V801.3M641.3 784.3V800.2M644.7 792.2V809.6M648.1 796.1V810.0M651.5 804.8V808.7M654.9 785.8V812.1M658.3 798.7V812.6M661.7 791.8V811.7M665.1 780.2V806.5M668.5 786.9V799.0M671.9 789.5V803.2M675.3 794.2V809.6M678.7 798.1V819.0M682.1 799.4V819.5M685.5 809.2V828.8M688.9 815.6V829.6M692.3 808.5V833.6M695.7 824.1V836.9M699.1 822.6V835.3M702.5 823.0V832.7M705.9 826.4V838.1M709.3 822.4V834.1M712.7 827.7V845.6M716.1 822.4V844.8M719.5 827.6V838.0M722.9 825.8V848.7M726.3 831.1V848.0M729.7 835.3V849.9M733.1 836.4V844.7M736.5 836.8V850.1M739.9 835.0V846.5M743.3 824.5V851.8M746.7 831.7V839.2M750.1 826.7V837.8M753.5 819.6V837.7M756.9 822.8V843.6M760.3 821.5V846.4M763.7 828.0V837.1M767.1 824.5V845.9M770.5 834.6V849.1M773.9 831.9V844.4M777.3 834.3V848.6M780.7 839.9V851.2M784.1 837.0V854.0M787.5 845.5V854.9M790.9 843.3V860.5M794.3 846.9V859.1M797.7 848.8V856.0M801.1 846.7V852.0M804.5 845.9V854.1M807.9 846.0V857.7M811.3 850.3V859.3M814.7 851.5V861.5M818.1 852.3V863.6M821.5 853.8V872.1M824.9 856.3V864.8M828.3 861.2V871.7M831.7 856.9V871.6M835.1 858.5V871.9M838.5 856.9V870.2M841.9 858.2V869.2M845.3 855.3V871.0M848.7 854.2V870.4M852.1 859.8V875.1M855.5 860.1V869.5M858.9 861.1V873.5M862.3 862.0V869.1M865.7 861.4V874.0M869.1 862.2V867.2M872.5 860.9V873.4M875.9 854.9V864.2M879.3 858.9V868.3M882.7 857.5V868.0M886.1 863.1V876.6M889.5 861.7V876.5M892.9 853.7V869.5M896.3 858.8V873.7M899.7 863.6V872.5M903.1 857.6V871.9M906.5 864.1V876.5M909.9 863.1V870.1M913.3 856.0V866.2M916.7 857.5V863.3M920.1 851.1V862.0M923.5 832.5V863.7M926.9 818.8V850.7M930.3 814.8V830.2M933.7 812.5V846.8M937.1 829.1V846.0M940.5 836.4V843.0M943.9 837.0V844.5M947.3 839.9V848.4M950.7 838.0V853.2M954.1 824.7V850.8M957.5 831.5V846.1M960.9 829.4V836.9M964.3 817.2V839.5M967.7 814.5V830.0M971.1 800.9V822.1M974.5 809.5V826.9M977.9 813.6V844.5M981.3 829.8V856.5M984.7 837.4V846.9M988.1 834.2V861.8M991.5 841.9V854.5M994.9 850.1V858.0M998.3 844.8V858.9M1001.7 845.2V863.7M1005.1 849.1V872.8M1008.5 857.0V871.2M1011.9 854.4V878.7M1015.3 862.6V867.7M1018.7 855.8V866.9M1022.1 858.0V869.0M1025.5 861.6V866.2M1028.9 857.1V873.3M1032.3 862.7V874.7M1035.7 858.1V868.8M1039.1 858.9V871.7M1042.5 860.9V866.6M1045.9 858.1V866.2M1049.3 863.8V869.6M1052.7 858.2V875.7M1056.1 852.7V872.6M1059.5 863.1V871.9M1062.9 860.6V877.4M1066.3 865.7V875.5M1069.7 867.3V873.0M1073.1 867.3V884.5M1076.5 868.9V882.7M1079.9 868.4V882.2M1083.3 864.8V879.5M1086.7 862.8V890.0M1090.1 867.4V884.8M1093.5 871.5V881.4M1096.9 874.6V882.7M1100.3 875.9V880.6M1103.7 870.5V891.6M1107.1 872.4V878.8M1110.5 873.5V880.8M1113.9 866.2V882.2M1117.3 873.6V886.4M1120.7 873.9V882.4M1124.1 871.0V883.0M1127.5 869.5V882.6M1130.9 875.5V882.8M1134.3 874.8V890.8M1137.7 872.1V891.3M1141.1 872.3V882.8M1144.5 876.3V884.5M1147.9 866.6V883.5M1151.3 866.8V879.8M1154.7 860.6V873.5M1158.1 851.5V863.2M1161.5 854.9V872.5M1164.9 860.5V872.0M1168.3 861.1V873.2M1171.7 861.6V874.5M1175.1 860.8V878.1M1178.5 860.5V872.9M1181.9 862.9V873.1M1185.3 870.7V877.2M1188.7 869.4V879.9M1192.1 868.0V879.5M1195.5 871.7V885.5M1198.9 867.4V880.5M1202.3 875.2V886.6M1205.7 872.1V882.9M1209.1 878.3V886.4M1212.5 880.5V886.5M1215.9 873.0V888.5M1219.3 870.7V886.8M1222.7 876.0V890.7M1226.1 873.1V890.8M1229.5 876.8V887.7M1232.9 879.1V890.3M1236.3 879.5V888.3M1239.7 878.5V887.2M1243.1 880.0V890.0M1246.5 873.1V896.0M1249.9 881.2V889.3M1253.3 877.8V885.2M1256.7 879.0V885.4M1260.1 872.1V886.0M1263.5 878.4V885.2M1266.9 879.9V892.5M1270.3 878.5V886.2M1273.7 875.1V885.4M1277.1 878.6V886.7M1280.5 871.8V888.1M1283.9 877.6V885.9M1287.3 878.1V885.5M1290.7 875.8V884.9M1294.1 870.0V888.5M1297.5 869.2V884.4M1300.9 876.3V880.5M1304.3 873.2V883.7M1307.7 874.4V882.3M1311.1 868.7V879.5M1314.5 872.3V880.7M1317.9 865.3V883.7M1321.3 861.3V877.0M1324.7 854.8V874.6M1328.1 853.1V862.1M1331.5 857.3V871.6M1334.9 864.7V884.3M1338.3 868.1V881.8M1341.7 873.7V882.8M1345.1 876.3V888.9M1348.5 873.8V884.4M1351.9 871.0V886.4M1355.3 875.1V888.7M1358.7 881.4V892.9M1362.1 874.0V888.7M1365.5 883.7V889.2M1368.9 882.0V888.4M1372.3 879.0V889.4M1375.7 873.0V894.8M1379.1 879.1V890.5M1382.5 884.3V887.3M1385.9 878.8V896.8M1389.3 875.8V895.4M1392.7 884.7V893.7M1396.1 884.1V901.1M1399.5 884.6V903.5M1402.9 888.4V892.0M1406.3 887.8V894.3M1409.7 882.9V893.9M1413.1 886.5V902.8M1416.5 887.5V894.0M1419.9 885.2V899.9M1423.3 887.0V896.6M1426.7 883.5V892.7M1430.1 886.9V897.5M1433.5 885.8V901.5M1436.9 888.6V902.0M1440.3 888.3V894.0M1443.7 886.1V894.3M1447.1 882.1V895.5M1450.5 883.9V895.5M1453.9 883.2V891.5M1457.3 883.5V892.4M1460.7 882.8V893.0M1464.1 883.2V894.9M1467.5 888.5V897.2M1470.9 886.5V901.1M1474.3 889.4V894.7M1477.7 890.3V894.4M1481.1 885.4V898.3M1484.5 891.7V902.1M1487.9 890.6V904.0M1491.3 890.7V898.7M1494.7 887.9V906.4M1498.1 886.5V904.8M1501.5 889.0V905.2M1504.9 888.2V899.0M1508.3 890.5V903.9M1511.7 887.8V910.4M1515.1 890.4V905.1M1518.5 893.9V904.3M1521.9 887.6V901.3M1525.3 894.7V902.4M1528.7 892.7V904.2M1532.1 888.3V907.5M1535.5 894.8V905.4M1538.9 893.5V903.7M1542.3 895.2V905.2M1545.7 890.9V899.5M1549.1 891.3V907.2M1552.5 892.0V901.0M1555.9 893.4V900.3M1559.3 890.6V900.0M1562.7 891.2V898.2M1566.1 888.2V897.5M1569.5 889.3V902.1M1572.9 889.4V902.3M1576.3 889.3V903.0M1579.7 892.9V897.0M1583.1 890.1V905.8M1586.5 892.5V897.3M1589.9 893.0V899.1M1593.3 893.4V897.5M1596.7 892.7V899.2M1600.1 891.2V903.2M1603.5 892.4V897.7M1606.9 893.4V898.4M1610.3 892.3V902.9M1613.7 894.2V902.9M1617.1 892.2V901.9M1620.5 891.7V903.0M1623.9 892.1V902.2M1627.3 891.1V896.3M1630.7 888.9V907.8M1634.1 891.7V901.3M1637.5 886.3V897.5M1640.9 890.4V904.5M1644.3 884.5V900.6M1647.7 892.8V900.6M1651.1 889.0V904.3M1654.5 891.0V900.8M1657.9 884.6V900.1M1661.3 894.0V908.3M1664.7 889.6V901.2M1668.1 883.9V899.2M1671.5 890.0V900.3M1674.9 888.3V897.5M1678.3 885.6V902.3M1681.7 887.5V899.0M1685.1 888.6V894.2M1688.5 889.7V893.8M1691.9 886.3V901.3M1695.3 891.6V899.3M1698.7 883.5V900.2M1702.1 889.0V896.9M1705.5 886.4V905.0M1708.9 884.8V902.2M1712.3 892.4V903.7M1715.7 889.8V903.7M1719.1 894.7V904.4M1722.5 897.9V904.9M1725.9 895.9V909.8" stroke="#000" stroke-width="3.5" stroke-linecap="round"/>
<polygon points="151.7,697.0 155.1,703.2 158.5,708.9 161.9,712.7 165.3,717.9 168.7,726.9 172.1,737.4 175.5,746.8 178.9,754.7 182.3,761.8 185.7,768.3 189.1,773.7 192.5,777.3 195.9,779.3 199.3,780.5 202.7,781.4 206.1,782.3 209.5,782.9 212.9,783.4 216.3,783.8 219.7,784.2 223.1,785.0 226.5,786.4 229.9,788.1 233.3,790.1 236.7,792.0 240.1,793.7 243.5,795.0 246.9,795.8 250.3,796.6 253.7,797.2 257.1,797.9 260.5,798.6 263.9,799.3 267.3,799.9 270.7,800.6 274.1,801.3 277.5,802.0 280.9,802.7 284.3,803.4 287.7,804.0 291.1,804.7 294.5,805.4 297.9,806.1 301.3,806.7 304.7,807.4 308.1,808.1 311.5,808.8 314.9,809.4 318.3,810.1 321.7,810.8 325.1,811.3 328.5,811.7 331.9,812.1 335.3,812.4 338.7,812.8 342.1,813.1 345.5,813.4 348.9,813.8 352.3,814.1 355.7,814.5 359.1,815.0 362.5,815.6 365.9,816.2 369.3,816.9 372.7,817.5 376.1,818.0 379.5,818.5 382.9,818.9 386.3,819.2 389.7,819.4 393.1,819.5 396.5,819.3 399.9,819.0 403.3,818.6 406.7,818.2 410.1,817.6 413.5,817.0 416.9,816.4 420.3,815.7 423.7,815.0 427.1,814.1 430.5,813.1 433.9,812.0 437.3,810.8 440.7,809.6 444.1,808.2 447.5,806.9 450.9,805.5 454.3,804.3 457.7,803.1 461.1,802.0 464.5,801.0 467.9,800.0 471.3,799.1 474.7,798.3 478.1,797.5 481.5,796.8 484.9,796.1 488.3,795.4 491.7,794.5 495.1,793.3 498.5,792.1 501.9,790.7 505.3,789.2 508.7,787.3 512.1,784.7 515.5,781.7 518.9,778.4 522.3,775.1 525.7,772.0 529.1,769.3 532.5,767.0 535.9,764.9 539.3,762.9 542.7,760.9 546.1,758.8 549.5,756.8 552.9,754.8 556.3,752.8 559.7,751.1 563.1,750.0 566.5,749.8 569.9,750.3 573.3,750.9 576.7,751.2 580.1,750.7 583.5,749.7 586.9,748.8 590.3,748.3 593.7,748.2 597.1,748.2 600.5,748.0 603.9,748.6 607.3,751.4 610.7,756.7 614.1,763.0 617.5,768.7 620.9,773.7 624.3,778.3 627.7,782.4 631.1,786.2 634.5,789.7 637.9,793.0 641.3,796.2 644.7,799.2 648.1,801.7 651.5,803.1 654.9,802.4 658.3,800.1 661.7,797.2 665.1,794.9 668.5,793.9 671.9,795.6 675.3,799.9 678.7,805.8 682.1,811.7 685.5,816.9 688.9,820.8 692.3,823.3 695.7,824.7 699.1,825.8 702.5,826.8 705.9,827.5 709.3,827.8 712.7,828.0 716.1,828.4 719.5,829.9 722.9,832.5 726.3,835.4 729.7,837.7 733.1,839.4 736.5,840.2 739.9,839.6 743.3,837.8 746.7,835.4 750.1,832.9 753.5,831.0 756.9,830.4 760.3,831.2 763.7,832.9 767.1,834.8 770.5,836.8 773.9,838.7 777.3,840.7 780.7,842.8 784.1,844.8 787.5,846.7 790.9,848.1 794.3,848.9 797.7,849.2 801.1,849.3 804.5,849.5 807.9,850.1 811.3,851.4 814.7,853.6 818.1,856.2 821.5,858.9 824.9,861.1 828.3,862.6 831.7,863.0 835.1,862.9 838.5,862.6 841.9,862.4 845.3,862.3 848.7,862.4 852.1,862.6 855.5,863.0 858.9,863.2 862.3,863.3 865.7,862.9 869.1,862.3 872.5,861.6 875.9,861.3 879.3,861.9 882.7,863.2 886.1,864.8 889.5,866.0 892.9,866.4 896.3,866.1 899.7,865.4 903.1,864.7 906.5,863.7 909.9,862.3 913.3,860.3 916.7,857.5 920.1,852.2 923.5,842.6 926.9,830.9 930.3,825.0 933.7,828.1 937.1,834.5 940.5,838.8 943.9,841.1 947.3,842.4 950.7,842.2 954.1,839.7 957.5,836.0 960.9,832.1 964.3,827.2 967.7,820.9 971.1,816.5 974.5,818.9 977.9,827.0 981.3,835.6 984.7,841.4 988.1,845.2 991.5,848.1 994.9,850.7 998.3,853.1 1001.7,855.4 1005.1,857.5 1008.5,859.5 1011.9,861.4 1015.3,862.7 1018.7,863.3 1022.1,863.4 1025.5,863.2 1028.9,863.0 1032.3,862.9 1035.7,862.7 1039.1,862.8 1042.5,863.2 1045.9,863.8 1049.3,864.5 1052.7,865.3 1056.1,866.1 1059.5,866.9 1062.9,867.8 1066.3,868.8 1069.7,869.9 1073.1,870.9 1076.5,871.9 1079.9,872.7 1083.3,873.3 1086.7,873.7 1090.1,874.1 1093.5,874.4 1096.9,874.7 1100.3,875.1 1103.7,875.4 1107.1,875.8 1110.5,876.1 1113.9,876.4 1117.3,876.8 1120.7,877.1 1124.1,877.5 1127.5,877.8 1130.9,878.1 1134.3,878.4 1137.7,878.4 1141.1,877.6 1144.5,875.6 1147.9,872.3 1151.3,868.1 1154.7,864.3 1158.1,862.6 1161.5,863.1 1164.9,864.8 1168.3,866.3 1171.7,867.4 1175.1,868.3 1178.5,869.3 1181.9,870.3 1185.3,871.3 1188.7,872.4 1192.1,873.6 1195.5,874.9 1198.9,876.2 1202.3,877.5 1205.7,878.8 1209.1,879.9 1212.5,880.7 1215.9,881.0 1219.3,881.1 1222.7,881.1 1226.1,881.1 1229.5,881.1 1232.9,881.1 1236.3,881.1 1239.7,881.1 1243.1,881.1 1246.5,881.1 1249.9,881.1 1253.3,881.1 1256.7,881.1 1260.1,881.1 1263.5,881.1 1266.9,881.1 1270.3,881.0 1273.7,880.9 1277.1,880.6 1280.5,880.3 1283.9,879.9 1287.3,879.6 1290.7,879.1 1294.1,878.5 1297.5,877.8 1300.9,877.1 1304.3,876.3 1307.7,875.4 1311.1,874.6 1314.5,873.4 1317.9,871.3 1321.3,867.3 1324.7,862.3 1328.1,860.6 1331.5,864.2 1334.9,869.9 1338.3,874.2 1341.7,876.6 1345.1,878.2 1348.5,879.6 1351.9,881.0 1355.3,882.3 1358.7,883.5 1362.1,884.4 1365.5,884.9 1368.9,884.9 1372.3,884.8 1375.7,884.7 1379.1,884.8 1382.5,885.2 1385.9,885.7 1389.3,886.3 1392.7,886.9 1396.1,887.3 1399.5,887.6 1402.9,888.0 1406.3,888.3 1409.7,888.7 1413.1,889.0 1416.5,889.4 1419.9,889.7 1423.3,890.1 1426.7,890.4 1430.1,890.5 1433.5,890.4 1436.9,889.9 1440.3,889.3 1443.7,888.6 1447.1,888.0 1450.5,887.5 1453.9,887.4 1457.3,887.8 1460.7,888.4 1464.1,889.1 1467.5,889.7 1470.9,890.4 1474.3,891.1 1477.7,891.8 1481.1,892.5 1484.5,893.1 1487.9,893.8 1491.3,894.4 1494.7,895.0 1498.1,895.4 1501.5,895.8 1504.9,896.1 1508.3,896.5 1511.7,896.7 1515.1,896.8 1518.5,896.7 1521.9,896.5 1525.3,896.1 1528.7,895.8 1532.1,895.5 1535.5,895.2 1538.9,895.1 1542.3,895.1 1545.7,895.1 1549.1,895.1 1552.5,895.0 1555.9,894.9 1559.3,894.7 1562.7,894.4 1566.1,894.1 1569.5,893.7 1572.9,893.5 1576.3,893.3 1579.7,893.4 1583.1,893.6 1586.5,893.9 1589.9,894.3 1593.3,894.6 1596.7,894.9 1600.1,895.0 1603.5,895.1 1606.9,895.1 1610.3,895.1 1613.7,895.1 1617.1,895.0 1620.5,894.8 1623.9,894.5 1627.3,894.2 1630.7,893.8 1634.1,893.5 1637.5,893.2 1640.9,893.1 1644.3,893.0 1647.7,893.0 1651.1,893.0 1654.5,893.0 1657.9,892.9 1661.3,892.8 1664.7,892.5 1668.1,892.2 1671.5,891.9 1674.9,891.6 1678.3,891.3 1681.7,891.3 1685.1,891.5 1688.5,891.8 1691.9,892.1 1695.3,892.4 1698.7,892.8 1702.1,893.4 1705.5,894.0 1708.9,894.8 1712.3,895.6 1715.7,896.5 1719.1,897.3 1722.5,898.0 1725.9,898.5 1725.9,901.5 1722.5,901.0 1719.1,900.3 1715.7,899.5 1712.3,898.7 1708.9,897.8 1705.5,897.1 1702.1,896.4 1698.7,895.8 1695.3,895.4 1691.9,895.1 1688.5,894.8 1685.1,894.5 1681.7,894.3 1678.3,894.4 1674.9,894.6 1671.5,894.9 1668.1,895.2 1664.7,895.5 1661.3,895.8 1657.9,895.9 1654.5,896.0 1651.1,896.0 1647.7,896.0 1644.3,896.0 1640.9,896.1 1637.5,896.3 1634.1,896.6 1630.7,896.9 1627.3,897.2 1623.9,897.6 1620.5,897.8 1617.1,898.0 1613.7,898.1 1610.3,898.1 1606.9,898.1 1603.5,898.1 1600.1,898.1 1596.7,897.9 1593.3,897.6 1589.9,897.3 1586.5,897.0 1583.1,896.7 1579.7,896.4 1576.3,896.4 1572.9,896.5 1569.5,896.8 1566.1,897.1 1562.7,897.5 1559.3,897.8 1555.9,898.0 1552.5,898.1 1549.1,898.1 1545.7,898.1 1542.3,898.1 1538.9,898.2 1535.5,898.3 1532.1,898.5 1528.7,898.8 1525.3,899.2 1521.9,899.5 1518.5,899.8 1515.1,899.9 1511.7,899.8 1508.3,899.5 1504.9,899.2 1501.5,898.9 1498.1,898.5 1494.7,898.0 1491.3,897.5 1487.9,896.9 1484.5,896.2 1481.1,895.5 1477.7,894.9 1474.3,894.2 1470.9,893.5 1467.5,892.8 1464.1,892.1 1460.7,891.5 1457.3,890.9 1453.9,890.5 1450.5,890.6 1447.1,891.1 1443.7,891.7 1440.3,892.4 1436.9,893.0 1433.5,893.4 1430.1,893.6 1426.7,893.4 1423.3,893.1 1419.9,892.8 1416.5,892.5 1413.1,892.1 1409.7,891.8 1406.3,891.4 1402.9,891.1 1399.5,890.7 1396.1,890.4 1392.7,890.0 1389.3,889.4 1385.9,888.8 1382.5,888.3 1379.1,887.9 1375.7,887.8 1372.3,887.9 1368.9,888.0 1365.5,888.0 1362.1,887.5 1358.7,886.6 1355.3,885.4 1351.9,884.1 1348.5,882.7 1345.1,881.3 1341.7,879.7 1338.3,877.3 1334.9,873.0 1331.5,867.3 1328.1,863.7 1324.7,865.4 1321.3,870.4 1317.9,874.4 1314.5,876.6 1311.1,877.7 1307.7,878.6 1304.3,879.4 1300.9,880.2 1297.5,880.9 1294.1,881.7 1290.7,882.3 1287.3,882.7 1283.9,883.1 1280.5,883.4 1277.1,883.7 1273.7,884.0 1270.3,884.2 1266.9,884.2 1263.5,884.3 1260.1,884.3 1256.7,884.3 1253.3,884.3 1249.9,884.3 1246.5,884.3 1243.1,884.3 1239.7,884.3 1236.3,884.3 1232.9,884.3 1229.5,884.3 1226.1,884.3 1222.7,884.3 1219.3,884.3 1215.9,884.2 1212.5,883.8 1209.1,883.1 1205.7,881.9 1202.3,880.6 1198.9,879.3 1195.5,878.0 1192.1,876.7 1188.7,875.6 1185.3,874.5 1181.9,873.5 1178.5,872.4 1175.1,871.5 1171.7,870.5 1168.3,869.5 1164.9,868.0 1161.5,866.3 1158.1,865.7 1154.7,867.5 1151.3,871.3 1147.9,875.5 1144.5,878.8 1141.1,880.8 1137.7,881.5 1134.3,881.6 1130.9,881.3 1127.5,881.0 1124.1,880.6 1120.7,880.3 1117.3,879.9 1113.9,879.6 1110.5,879.3 1107.1,878.9 1103.7,878.6 1100.3,878.3 1096.9,877.9 1093.5,877.6 1090.1,877.2 1086.7,876.9 1083.3,876.5 1079.9,875.8 1076.5,875.0 1073.1,874.1 1069.7,873.0 1066.3,872.0 1062.9,871.0 1059.5,870.1 1056.1,869.3 1052.7,868.5 1049.3,867.7 1045.9,867.0 1042.5,866.3 1039.1,866.0 1035.7,865.9 1032.3,866.0 1028.9,866.2 1025.5,866.4 1022.1,866.6 1018.7,866.5 1015.3,865.9 1011.9,864.5 1008.5,862.7 1005.1,860.7 1001.7,858.6 998.3,856.3 994.9,853.9 991.5,851.3 988.1,848.4 984.7,844.6 981.3,838.8 977.9,830.2 974.5,822.1 971.1,819.7 967.7,824.1 964.3,830.5 960.9,835.3 957.5,839.2 954.1,842.9 950.7,845.4 947.3,845.6 943.9,844.3 940.5,842.0 937.1,837.7 933.7,831.3 930.3,828.2 926.9,834.1 923.5,845.8 920.1,855.5 916.7,860.7 913.3,863.5 909.9,865.5 906.5,866.9 903.1,867.9 899.7,868.7 896.3,869.3 892.9,869.6 889.5,869.2 886.1,868.1 882.7,866.5 879.3,865.1 875.9,864.6 872.5,864.9 869.1,865.5 865.7,866.2 862.3,866.5 858.9,866.5 855.5,866.2 852.1,865.9 848.7,865.7 845.3,865.6 841.9,865.7 838.5,866.0 835.1,866.2 831.7,866.4 828.3,865.9 824.9,864.4 821.5,862.2 818.1,859.6 814.7,857.0 811.3,854.8 807.9,853.4 804.5,852.8 801.1,852.7 797.7,852.6 794.3,852.3 790.9,851.5 787.5,850.0 784.1,848.2 780.7,846.2 777.3,844.1 773.9,842.1 770.5,840.2 767.1,838.2 763.7,836.3 760.3,834.6 756.9,833.9 753.5,834.5 750.1,836.3 746.7,838.8 743.3,841.2 739.9,843.0 736.5,843.6 733.1,842.8 729.7,841.2 726.3,838.8 722.9,836.0 719.5,833.3 716.1,831.9 712.7,831.5 709.3,831.3 705.9,830.9 702.5,830.3 699.1,829.3 695.7,828.3 692.3,826.8 688.9,824.4 685.5,820.5 682.1,815.4 678.7,809.5 675.3,803.7 671.9,799.4 668.5,797.7 665.1,798.7 661.7,801.1 658.3,804.0 654.9,806.4 651.5,807.1 648.1,805.8 644.7,803.3 641.3,800.3 637.9,797.2 634.5,793.9 631.1,790.4 627.7,786.7 624.3,782.6 620.9,778.1 617.5,773.1 614.1,767.4 610.7,761.2 607.3,755.9 603.9,753.1 600.5,752.6 597.1,752.7 593.7,752.8 590.3,752.9 586.9,753.5 583.5,754.4 580.1,755.5 576.7,755.9 573.3,755.7 569.9,755.1 566.5,754.7 563.1,754.9 559.7,756.0 556.3,757.8 552.9,759.8 549.5,761.8 546.1,763.9 542.7,766.0 539.3,768.0 535.9,770.0 532.5,772.1 529.1,774.5 525.7,777.2 522.3,780.4 518.9,783.7 515.5,787.0 512.1,790.1 508.7,792.7 505.3,794.6 501.9,796.2 498.5,797.6 495.1,798.9 491.7,800.0 488.3,801.0 484.9,801.7 481.5,802.5 478.1,803.2 474.7,804.0 471.3,804.9 467.9,805.8 464.5,806.8 461.1,807.9 457.7,809.0 454.3,810.2 450.9,811.5 447.5,812.8 444.1,814.2 440.7,815.5 437.3,816.8 433.9,817.9 430.5,819.0 427.1,820.0 423.7,820.9 420.3,821.7 416.9,822.3 413.5,823.0 410.1,823.6 406.7,824.1 403.3,824.5 399.9,824.9 396.5,825.2 393.1,825.4 389.7,825.4 386.3,825.1 382.9,824.8 379.5,824.4 376.1,824.0 372.7,823.5 369.3,822.8 365.9,822.2 362.5,821.5 359.1,821.0 355.7,820.5 352.3,820.1 348.9,819.7 345.5,819.4 342.1,819.1 338.7,818.7 335.3,818.4 331.9,818.1 328.5,817.7 325.1,817.3 321.7,816.7 318.3,816.1 314.9,815.4 311.5,814.7 308.1,814.0 304.7,813.3 301.3,812.7 297.9,812.0 294.5,811.4 291.1,810.7 287.7,810.0 284.3,809.3 280.9,808.6 277.5,807.9 274.1,807.2 270.7,806.6 267.3,805.9 263.9,805.2 260.5,804.6 257.1,803.9 253.7,803.2 250.3,802.5 246.9,801.8 243.5,800.9 240.1,799.7 236.7,798.0 233.3,796.1 229.9,794.1 226.5,792.3 223.1,791.0 219.7,790.2 216.3,789.7 212.9,789.3 209.5,788.9 206.1,788.2 202.7,787.4 199.3,786.4 195.9,785.0 192.5,782.9 189.1,779.1 185.7,773.5 182.3,766.9 178.9,759.6 175.5,751.5 172.1,742.0 168.7,731.4 165.3,722.2 161.9,716.7 158.5,712.8 155.1,707.0 151.7,700.5" fill="#000" stroke="none"/>
<path d="M152.8 1046.0V1058.9M156.0 1042.5V1066.0M159.2 1047.2V1067.1M162.4 1057.6V1070.0M165.6 1056.0V1071.7M168.8 1066.7V1078.0M172.0 1062.6V1081.2M175.2 1060.5V1083.0M178.4 1073.2V1080.2M181.6 1076.2V1084.2M184.8 1079.1V1087.2M188.0 1078.0V1091.4M191.2 1082.5V1097.2M194.4 1078.7V1091.1M197.6 1081.7V1089.3M200.8 1083.0V1094.5M204.0 1080.4V1099.7M207.2 1078.5V1100.3M210.4 1079.0V1091.0M213.6 1084.3V1092.3M216.8 1080.0V1092.6M220.0 1082.7V1090.1M223.2 1072.8V1093.4M226.4 1078.1V1094.2M229.6 1083.7V1087.3M232.8 1074.6V1090.8M236.0 1081.1V1093.9M239.2 1079.8V1097.5M242.4 1078.5V1087.6M245.6 1074.2V1092.9M248.8 1081.8V1088.1M252.0 1083.2V1091.2M255.2 1082.4V1100.7M258.4 1084.4V1095.4M261.6 1085.1V1107.9M264.8 1084.5V1095.6M268.0 1082.6V1093.1M271.2 1086.5V1095.1M274.4 1085.5V1099.2M277.6 1088.5V1093.7M280.8 1082.0V1095.2M284.0 1078.4V1094.3M287.2 1086.3V1098.4M290.4 1088.1V1102.3M293.6 1085.6V1097.3M296.8 1088.8V1093.4M300.0 1082.2V1100.6M303.2 1088.5V1097.3M306.4 1083.7V1101.2M309.6 1087.4V1097.6M312.8 1089.9V1099.0M316.0 1086.8V1115.0M319.2 1092.7V1098.0M322.4 1091.5V1106.9M325.6 1088.7V1099.0M328.8 1080.4V1107.8M332.0 1091.9V1113.2M335.2 1090.0V1103.8M338.4 1086.4V1106.7M341.6 1080.0V1101.8M344.8 1095.9V1107.1M348.0 1096.4V1105.6M351.2 1087.5V1106.7M354.4 1095.6V1106.5M357.6 1092.6V1112.7M360.8 1096.5V1104.4M364.0 1090.6V1109.8M367.2 1090.4V1106.3M370.4 1098.4V1109.3M373.6 1097.9V1106.2M376.8 1097.2V1108.5M380.0 1100.9V1109.7M383.2 1094.4V1105.5M386.4 1101.3V1110.2M389.6 1094.3V1105.4M392.8 1100.1V1104.3M396.0 1099.3V1108.5M399.2 1098.9V1108.5M402.4 1101.1V1112.7M405.6 1102.2V1106.6M408.8 1098.0V1108.7M412.0 1095.7V1112.7M415.2 1096.8V1106.5M418.4 1098.9V1109.5M421.6 1099.7V1108.1M424.8 1100.9V1112.1M428.0 1098.3V1110.9M431.2 1097.8V1106.9M434.4 1097.3V1108.6M437.6 1100.4V1112.1M440.8 1095.2V1111.2M444.0 1099.1V1112.7M447.2 1097.4V1106.4M450.4 1099.9V1107.2M453.6 1101.1V1108.5M456.8 1096.4V1107.5M460.0 1096.7V1116.0M463.2 1101.2V1106.7M466.4 1101.9V1105.4M469.6 1096.2V1105.4M472.8 1095.6V1127.8M476.0 1099.5V1116.3M479.2 1095.4V1111.9M482.4 1100.7V1107.6M485.6 1090.1V1105.1M488.8 1096.6V1104.1M492.0 1091.7V1109.0M495.2 1095.9V1102.6M498.4 1098.2V1101.8M501.6 1087.4V1104.2M504.8 1086.0V1103.9M508.0 1096.5V1102.1M511.2 1093.5V1105.6M514.4 1081.7V1107.8M517.6 1095.2V1109.9M520.8 1092.7V1105.2M524.0 1094.3V1108.4M527.2 1075.7V1106.4M530.4 1089.9V1102.2M533.6 1094.5V1096.8M536.8 1091.0V1104.7M540.0 1093.0V1096.0M543.2 1067.3V1097.2M546.4 1079.1V1094.8M549.6 1081.7V1093.4M552.8 1074.0V1098.7M556.0 1079.2V1102.0M559.2 1080.2V1088.0M562.4 1079.3V1086.8M565.6 1082.2V1101.6M568.8 1074.1V1084.9M572.0 1072.1V1088.3M575.2 1079.3V1086.1M578.4 1081.7V1092.3M581.6 1080.3V1089.9M584.8 1077.3V1092.3M588.0 1075.5V1087.0M591.2 1075.5V1095.8M594.4 1067.7V1082.9M597.6 1067.2V1074.5M600.8 1061.3V1092.2M604.0 1067.4V1080.4M607.2 1078.2V1091.2M610.4 1073.2V1086.8M613.6 1080.8V1088.4M616.8 1073.5V1089.0M620.0 1075.4V1084.4M623.2 1072.7V1091.6M626.4 1073.0V1087.9M629.6 1080.5V1105.2M632.8 1080.4V1089.0M636.0 1072.6V1084.6M639.2 1078.8V1087.7M642.4 1057.3V1086.4M645.6 1074.0V1083.5M648.8 1077.9V1083.7M652.0 1066.8V1091.1M655.2 1077.4V1085.8M658.4 1077.7V1099.0M661.6 1071.8V1108.7M664.8 1068.5V1086.9M668.0 1067.6V1091.5M671.2 1068.0V1081.2M674.4 1068.9V1083.8M677.6 1073.0V1086.0M680.8 1072.5V1087.6M684.0 1068.6V1085.9M687.2 1075.0V1089.7M690.4 1075.0V1085.8M693.6 1072.6V1095.1M696.8 1080.4V1091.8M700.0 1079.8V1090.5M703.2 1078.0V1086.5M706.4 1073.2V1085.8M709.6 1073.1V1096.4M712.8 1073.5V1082.1M716.0 1073.5V1088.0M719.2 1072.9V1087.9M722.4 1067.5V1083.8M725.6 1075.3V1084.5M728.8 1077.8V1090.7M732.0 1069.8V1085.1M735.2 1079.4V1088.9M738.4 1076.9V1087.0M741.6 1066.5V1088.9M744.8 1075.0V1088.9M748.0 1079.5V1092.0M751.2 1076.0V1091.6M754.4 1078.5V1091.4M757.6 1072.4V1088.8M760.8 1078.8V1097.6M764.0 1086.3V1096.9M767.2 1085.0V1093.0M770.4 1085.9V1098.2M773.6 1079.5V1095.4M776.8 1076.7V1087.8M780.0 1068.7V1108.2M783.2 1068.1V1089.4M786.4 1072.2V1080.8M789.6 1072.7V1085.4M792.8 1071.2V1084.1M796.0 1070.9V1085.7M799.2 1073.5V1085.7M802.4 1075.6V1089.6M805.6 1067.5V1090.0M808.8 1078.1V1100.2M812.0 1093.1V1100.4M815.2 1093.3V1105.9M818.4 1093.5V1108.5M821.6 1093.8V1133.3M824.8 1107.7V1116.9M828.0 1108.1V1125.8M831.2 1111.7V1127.0M834.4 1104.1V1126.3M837.6 1115.3V1126.1M840.8 1117.9V1122.6M844.0 1120.6V1127.2M847.2 1117.8V1129.4M850.4 1107.4V1128.7M853.6 1119.0V1126.6M856.8 1122.8V1126.7M860.0 1114.8V1131.8M863.2 1117.7V1127.9M866.4 1119.2V1130.8M869.6 1117.3V1129.5M872.8 1117.5V1132.3M876.0 1120.6V1140.9M879.2 1122.0V1140.7M882.4 1122.5V1134.7M885.6 1122.2V1135.8M888.8 1116.9V1135.7M892.0 1116.5V1130.3M895.2 1101.4V1126.4M898.4 1112.3V1124.6M901.6 1104.7V1123.7M904.8 1080.8V1116.3M908.0 1073.6V1096.3M911.2 1092.0V1125.9M914.4 1111.8V1130.0M917.6 1110.7V1149.0M920.8 1119.5V1128.4M924.0 1120.4V1130.0M927.2 1107.2V1135.3M930.4 1117.4V1126.8M933.6 1123.0V1135.9M936.8 1120.6V1129.2M940.0 1111.4V1124.5M943.2 1110.3V1133.0M946.4 1108.3V1122.4M949.6 1083.3V1116.6M952.8 1091.2V1113.1M956.0 1073.6V1096.8M959.2 1070.8V1101.8M962.4 1086.1V1117.7M965.6 1108.4V1122.6M968.8 1105.4V1122.0M972.0 1116.5V1132.7M975.2 1117.9V1130.4M978.4 1122.4V1137.9M981.6 1119.6V1126.8M984.8 1121.5V1127.9M988.0 1111.1V1132.2M991.2 1118.7V1126.5M994.4 1117.5V1131.4M997.6 1118.1V1126.6M1000.8 1121.3V1133.8M1004.0 1118.9V1128.0M1007.2 1117.1V1133.5M1010.4 1117.4V1128.3M1013.6 1110.6V1132.8M1016.8 1121.7V1131.6M1020.0 1126.4V1136.1M1023.2 1121.7V1131.6M1026.4 1122.3V1133.2M1029.6 1123.4V1137.3M1032.8 1123.2V1132.0M1036.0 1123.2V1141.7M1039.2 1124.3V1138.2M1042.4 1128.3V1135.2M1045.6 1129.1V1133.7M1048.8 1128.0V1136.1M1052.0 1126.4V1134.7M1055.2 1130.2V1136.8M1058.4 1124.7V1136.9M1061.6 1126.8V1137.4M1064.8 1128.5V1140.1M1068.0 1125.7V1132.0M1071.2 1119.2V1129.9M1074.4 1114.6V1132.2M1077.6 1121.3V1139.0M1080.8 1118.9V1136.4M1084.0 1097.7V1131.5M1087.2 1114.3V1130.2M1090.4 1118.1V1125.1M1093.6 1118.2V1133.8M1096.8 1116.7V1129.1M1100.0 1114.7V1133.0M1103.2 1126.3V1137.9M1106.4 1127.2V1140.0M1109.6 1123.8V1140.7M1112.8 1126.8V1144.2M1116.0 1127.4V1143.3M1119.2 1131.7V1136.4M1122.4 1133.5V1158.9M1125.6 1127.3V1146.1M1128.8 1128.3V1143.7M1132.0 1127.8V1140.2M1135.2 1129.6V1135.7M1138.4 1125.7V1134.4M1141.6 1114.6V1134.3M1144.8 1123.1V1140.6M1148.0 1126.3V1138.3M1151.2 1124.0V1136.6M1154.4 1127.9V1145.4M1157.6 1125.1V1133.4M1160.8 1121.1V1136.4M1164.0 1124.8V1146.3M1167.2 1116.8V1130.3M1170.4 1118.0V1131.8M1173.6 1118.6V1135.5M1176.8 1121.9V1137.3M1180.0 1120.2V1130.5M1183.2 1121.6V1131.3M1186.4 1120.7V1134.2M1189.6 1125.0V1129.9M1192.8 1117.0V1133.3M1196.0 1125.6V1133.9M1199.2 1127.2V1135.1M1202.4 1124.0V1132.9M1205.6 1119.4V1137.0M1208.8 1125.6V1138.4M1212.0 1126.3V1135.3M1215.2 1113.6V1138.3M1218.4 1113.8V1131.9M1221.6 1121.9V1133.3M1224.8 1116.8V1129.8M1228.0 1125.6V1134.3M1231.2 1125.9V1133.0M1234.4 1127.1V1152.6M1237.6 1103.9V1151.7M1240.8 1119.4V1131.3M1244.0 1115.1V1134.0M1247.2 1117.3V1128.4M1250.4 1112.7V1127.3M1253.6 1112.7V1124.5M1256.8 1115.7V1129.5M1260.0 1117.0V1132.1M1263.2 1111.7V1134.9M1266.4 1122.2V1133.7M1269.6 1123.0V1137.8M1272.8 1123.5V1131.8M1276.0 1128.2V1132.8M1279.2 1126.1V1136.1M1282.4 1126.5V1134.8M1285.6 1127.5V1132.6M1288.8 1129.5V1136.5M1292.0 1126.3V1132.2M1295.2 1116.7V1134.7M1298.4 1126.1V1135.3M1301.6 1125.2V1135.1M1304.8 1117.8V1139.9M1308.0 1120.9V1131.3M1311.2 1120.9V1135.3M1314.4 1124.6V1131.5M1317.6 1116.9V1131.3M1320.8 1122.3V1134.1M1324.0 1123.9V1135.1M1327.2 1125.3V1137.6M1330.4 1120.9V1153.9M1333.6 1121.7V1133.7M1336.8 1122.1V1135.3M1340.0 1111.6V1139.5M1343.2 1113.3V1132.6M1346.4 1114.4V1130.5M1349.6 1116.0V1129.6M1352.8 1107.9V1122.6M1356.0 1097.5V1117.2M1359.2 1077.7V1107.8M1362.4 1059.3V1092.9M1365.6 1069.4V1094.2M1368.8 1081.3V1110.0M1372.0 1097.8V1118.0M1375.2 1108.0V1125.2M1378.4 1105.5V1122.6M1381.6 1110.0V1123.5M1384.8 1112.0V1120.1M1388.0 1117.3V1129.8M1391.2 1104.1V1135.8M1394.4 1110.7V1130.9M1397.6 1116.1V1132.1M1400.8 1108.4V1132.5M1404.0 1120.7V1133.0M1407.2 1123.2V1130.5M1410.4 1113.6V1132.1M1413.6 1127.1V1140.3M1416.8 1125.2V1143.8M1420.0 1119.1V1140.7M1423.2 1108.3V1136.8M1426.4 1127.2V1140.0M1429.6 1127.9V1136.4M1432.8 1124.6V1139.9M1436.0 1130.8V1137.4M1439.2 1126.9V1141.1M1442.4 1131.6V1141.7M1445.6 1129.9V1147.0M1448.8 1124.3V1141.9M1452.0 1135.2V1144.8M1455.2 1134.0V1138.4M1458.4 1125.8V1142.2M1461.6 1135.7V1142.5M1464.8 1135.1V1139.9M1468.0 1135.3V1149.3M1471.2 1136.6V1142.6M1474.4 1131.8V1142.7M1477.6 1121.8V1140.2M1480.8 1135.5V1145.5M1484.0 1128.7V1148.4M1487.2 1134.6V1161.3M1490.4 1139.2V1153.2M1493.6 1129.9V1146.1M1496.8 1130.9V1148.9M1500.0 1138.1V1147.8M1503.2 1127.9V1144.0M1506.4 1134.6V1149.1M1509.6 1136.1V1144.2M1512.8 1128.2V1143.3M1516.0 1127.5V1146.3M1519.2 1139.3V1155.1M1522.4 1130.8V1151.8M1525.6 1132.9V1142.3M1528.8 1133.7V1144.6M1532.0 1127.6V1143.8M1535.2 1133.7V1143.0M1538.4 1136.0V1144.1M1541.6 1135.0V1147.6M1544.8 1132.9V1142.8M1548.0 1135.2V1143.7M1551.2 1136.3V1145.2M1554.4 1133.2V1142.4M1557.6 1132.7V1147.5M1560.8 1133.6V1157.3M1564.0 1138.5V1153.8M1567.2 1135.3V1153.6M1570.4 1131.2V1146.5M1573.6 1139.1V1151.7M1576.8 1137.7V1151.0M1580.0 1141.3V1154.9M1583.2 1139.5V1148.0M1586.4 1137.7V1148.4M1589.6 1138.6V1150.1M1592.8 1134.6V1154.9M1596.0 1137.5V1150.5M1599.2 1132.2V1149.6M1602.4 1133.6V1146.6M1605.6 1136.0V1153.1M1608.8 1140.4V1148.8M1612.0 1117.0V1146.3M1615.2 1139.3V1144.2M1618.4 1140.3V1152.7M1621.6 1117.7V1150.0M1624.8 1134.3V1162.1M1628.0 1139.9V1143.5M1631.2 1139.7V1144.8M1634.4 1139.9V1150.3M1637.6 1137.4V1145.9M1640.8 1142.4V1149.0M1644.0 1138.9V1150.4M1647.2 1140.1V1155.2M1650.4 1132.6V1147.2M1653.6 1125.9V1146.5M1656.8 1138.7V1151.2M1660.0 1138.3V1148.3M1663.2 1140.7V1154.5M1666.4 1139.7V1169.5M1669.6 1143.8V1152.3M1672.8 1138.4V1148.2M1676.0 1140.5V1152.6M1679.2 1141.8V1147.3M1682.4 1130.1V1150.9M1685.6 1130.9V1148.3M1688.8 1142.0V1148.3M1692.0 1141.7V1153.4M1695.2 1143.6V1149.5M1698.4 1142.2V1148.7M1701.6 1135.2V1149.0M1704.8 1145.7V1154.0M1708.0 1139.6V1152.8M1711.2 1147.4V1154.3M1714.4 1146.9V1161.3M1717.6 1142.6V1153.0M1720.8 1138.9V1154.3M1724.0 1146.1V1156.7M1727.2 1142.2V1159.2" stroke="#000" stroke-width="2.8" stroke-linecap="round"/>
<polygon points="152.8,1054.5 156.0,1056.6 159.2,1059.5 162.4,1062.5 165.6,1065.2 168.8,1067.9 172.0,1070.4 175.2,1073.0 178.4,1075.5 181.6,1077.9 184.8,1079.8 188.0,1081.1 191.2,1081.9 194.4,1082.6 197.6,1083.3 200.8,1083.9 204.0,1084.4 207.2,1084.7 210.4,1084.8 213.6,1084.5 216.8,1084.3 220.0,1083.9 223.2,1083.6 226.4,1083.4 229.6,1083.3 232.8,1083.4 236.0,1083.6 239.2,1084.0 242.4,1084.3 245.6,1084.6 248.8,1084.9 252.0,1085.4 255.2,1085.9 258.4,1086.5 261.6,1087.1 264.8,1087.7 268.0,1088.3 271.2,1088.9 274.4,1089.3 277.6,1089.5 280.8,1089.6 284.0,1089.6 287.2,1089.6 290.4,1089.6 293.6,1089.7 296.8,1089.9 300.0,1090.3 303.2,1090.9 306.4,1091.6 309.6,1092.2 312.8,1092.8 316.0,1093.4 319.2,1094.0 322.4,1094.4 325.6,1094.7 328.8,1095.1 332.0,1095.4 335.2,1095.7 338.4,1096.0 341.6,1096.5 344.8,1097.0 348.0,1097.6 351.2,1098.3 354.4,1098.9 357.6,1099.5 360.8,1100.1 364.0,1100.5 367.2,1100.7 370.4,1100.8 373.6,1100.8 376.8,1100.8 380.0,1100.8 383.2,1100.8 386.4,1101.0 389.6,1101.2 392.8,1101.4 396.0,1101.8 399.2,1102.1 402.4,1102.4 405.6,1102.6 408.8,1102.7 412.0,1102.6 415.2,1102.3 418.4,1102.0 421.6,1101.7 424.8,1101.4 428.0,1101.1 431.2,1100.9 434.4,1100.8 437.6,1100.8 440.8,1100.8 444.0,1100.8 447.2,1100.8 450.4,1100.8 453.6,1100.8 456.8,1100.8 460.0,1100.8 463.2,1100.8 466.4,1100.8 469.6,1100.8 472.8,1100.8 476.0,1100.6 479.2,1100.4 482.4,1100.1 485.6,1099.8 488.8,1099.5 492.0,1099.2 495.2,1098.9 498.4,1098.7 501.6,1098.6 504.8,1098.6 508.0,1098.6 511.2,1098.6 514.4,1098.6 517.6,1098.4 520.8,1097.8 524.0,1096.8 527.2,1095.6 530.4,1094.6 533.6,1094.0 536.8,1093.6 540.0,1092.8 543.2,1091.0 546.4,1088.3 549.6,1085.4 552.8,1083.1 556.0,1081.9 559.2,1081.7 562.4,1081.9 565.6,1082.1 568.8,1082.2 572.0,1082.1 575.2,1081.8 578.4,1081.4 581.6,1080.9 584.8,1080.1 588.0,1078.7 591.2,1076.3 594.4,1074.0 597.6,1073.0 600.8,1074.0 604.0,1076.2 607.2,1078.7 610.4,1080.7 613.6,1081.5 616.8,1081.6 620.0,1081.2 623.2,1080.8 626.4,1080.4 629.6,1080.0 632.8,1079.7 636.0,1079.3 639.2,1079.0 642.4,1078.7 645.6,1078.5 648.8,1078.5 652.0,1079.0 655.2,1079.9 658.4,1080.7 661.6,1080.8 664.8,1079.9 668.0,1078.1 671.2,1076.2 674.4,1075.0 677.6,1075.0 680.8,1076.0 684.0,1077.4 687.2,1079.0 690.4,1080.3 693.6,1081.1 696.8,1081.0 700.0,1080.3 703.2,1079.1 706.4,1078.0 709.6,1077.0 712.8,1076.5 716.0,1076.6 719.2,1077.2 722.4,1077.9 725.6,1078.7 728.8,1079.5 732.0,1080.1 735.2,1080.6 738.4,1081.0 741.6,1081.3 744.8,1081.7 748.0,1082.1 751.2,1082.8 754.4,1083.7 757.6,1084.9 760.8,1086.1 764.0,1087.2 767.2,1087.6 770.4,1086.8 773.6,1084.9 776.8,1082.4 780.0,1080.0 783.2,1078.0 786.4,1076.9 789.6,1076.7 792.8,1076.9 796.0,1077.3 799.2,1078.2 802.4,1080.3 805.6,1084.2 808.8,1089.2 812.0,1094.1 815.2,1098.1 818.4,1101.5 821.6,1104.9 824.8,1108.6 828.0,1112.2 831.2,1114.8 834.4,1116.6 837.6,1117.8 840.8,1118.9 844.0,1119.8 847.2,1120.5 850.4,1121.1 853.6,1121.6 856.8,1122.1 860.0,1122.7 863.2,1123.3 866.4,1124.2 869.6,1125.3 872.8,1126.5 876.0,1127.4 879.2,1127.3 882.4,1126.3 885.6,1124.9 888.8,1123.6 892.0,1122.5 895.2,1121.3 898.4,1117.8 901.6,1108.7 904.8,1097.0 908.0,1094.6 911.2,1104.5 914.4,1115.5 917.6,1120.7 920.8,1122.2 924.0,1122.9 927.2,1123.5 930.4,1123.9 933.6,1123.4 936.8,1121.2 940.0,1117.7 943.2,1113.9 946.4,1110.3 949.6,1105.2 952.8,1096.6 956.0,1089.0 959.2,1090.9 962.4,1100.2 965.6,1109.0 968.8,1114.5 972.0,1118.2 975.2,1120.6 978.4,1121.6 981.6,1121.9 984.8,1121.9 988.0,1122.0 991.2,1122.3 994.4,1122.8 997.6,1123.4 1000.8,1124.0 1004.0,1124.6 1007.2,1125.0 1010.4,1125.3 1013.6,1125.4 1016.8,1125.4 1020.0,1125.4 1023.2,1125.6 1026.4,1125.9 1029.6,1126.6 1032.8,1127.5 1036.0,1128.4 1039.2,1129.3 1042.4,1130.0 1045.6,1130.2 1048.8,1130.1 1052.0,1129.8 1055.2,1129.3 1058.4,1128.8 1061.6,1128.1 1064.8,1127.4 1068.0,1126.6 1071.2,1125.8 1074.4,1124.9 1077.6,1124.0 1080.8,1122.7 1084.0,1121.2 1087.2,1120.2 1090.4,1120.4 1093.6,1121.8 1096.8,1123.9 1100.0,1126.1 1103.2,1128.2 1106.4,1130.0 1109.6,1131.2 1112.8,1132.0 1116.0,1132.7 1119.2,1133.3 1122.4,1133.7 1125.6,1133.7 1128.8,1133.3 1132.0,1132.6 1135.2,1131.9 1138.4,1131.2 1141.6,1130.4 1144.8,1129.7 1148.0,1129.0 1151.2,1128.3 1154.4,1127.5 1157.6,1126.9 1160.8,1126.2 1164.0,1125.6 1167.2,1125.0 1170.4,1124.5 1173.6,1124.3 1176.8,1124.5 1180.0,1125.0 1183.2,1125.6 1186.4,1126.2 1189.6,1126.7 1192.8,1127.2 1196.0,1127.6 1199.2,1128.0 1202.4,1128.2 1205.6,1128.3 1208.8,1127.9 1212.0,1126.6 1215.2,1125.0 1218.4,1123.8 1221.6,1123.7 1224.8,1124.5 1228.0,1125.7 1231.2,1126.8 1234.4,1127.4 1237.6,1126.9 1240.8,1125.4 1244.0,1123.2 1247.2,1121.2 1250.4,1120.1 1253.6,1120.4 1256.8,1121.6 1260.0,1123.3 1263.2,1124.8 1266.4,1125.8 1269.6,1126.6 1272.8,1127.3 1276.0,1127.9 1279.2,1128.4 1282.4,1128.8 1285.6,1129.0 1288.8,1129.0 1292.0,1129.0 1295.2,1128.9 1298.4,1128.8 1301.6,1128.4 1304.8,1127.8 1308.0,1127.2 1311.2,1126.6 1314.4,1126.1 1317.6,1125.8 1320.8,1125.9 1324.0,1126.1 1327.2,1126.4 1330.4,1126.6 1333.6,1126.5 1336.8,1125.8 1340.0,1124.5 1343.2,1123.0 1346.4,1121.2 1349.6,1118.7 1352.8,1113.7 1356.0,1103.9 1359.2,1090.8 1362.4,1081.3 1365.6,1082.4 1368.8,1092.7 1372.0,1104.2 1375.2,1111.4 1378.4,1114.4 1381.6,1115.7 1384.8,1116.8 1388.0,1118.0 1391.2,1119.3 1394.4,1120.6 1397.6,1121.9 1400.8,1123.1 1404.0,1124.4 1407.2,1125.7 1410.4,1126.9 1413.6,1128.0 1416.8,1128.8 1420.0,1129.4 1423.2,1129.8 1426.4,1130.1 1429.6,1130.4 1432.8,1130.9 1436.0,1131.4 1439.2,1132.0 1442.4,1132.6 1445.6,1133.2 1448.8,1133.9 1452.0,1134.5 1455.2,1134.9 1458.4,1135.2 1461.6,1135.3 1464.8,1135.3 1468.0,1135.3 1471.2,1135.5 1474.4,1135.9 1477.6,1136.6 1480.8,1137.4 1484.0,1138.4 1487.2,1139.3 1490.4,1139.9 1493.6,1140.2 1496.8,1140.1 1500.0,1139.9 1503.2,1139.5 1506.4,1139.2 1509.6,1138.9 1512.8,1138.6 1516.0,1138.3 1519.2,1137.9 1522.4,1137.6 1525.6,1137.3 1528.8,1137.0 1532.0,1136.6 1535.2,1136.3 1538.4,1136.0 1541.6,1135.8 1544.8,1135.7 1548.0,1136.0 1551.2,1136.5 1554.4,1137.1 1557.6,1137.7 1560.8,1138.3 1564.0,1138.8 1567.2,1139.3 1570.4,1139.6 1573.6,1139.9 1576.8,1140.2 1580.0,1140.4 1583.2,1140.3 1586.4,1140.1 1589.6,1139.9 1592.8,1139.6 1596.0,1139.3 1599.2,1139.2 1602.4,1139.3 1605.6,1139.6 1608.8,1139.9 1612.0,1140.2 1615.2,1140.4 1618.4,1140.6 1621.6,1140.7 1624.8,1140.7 1628.0,1140.7 1631.2,1140.7 1634.4,1140.8 1637.6,1141.0 1640.8,1141.3 1644.0,1141.6 1647.2,1141.9 1650.4,1142.2 1653.6,1142.4 1656.8,1142.5 1660.0,1142.5 1663.2,1142.5 1666.4,1142.5 1669.6,1142.5 1672.8,1142.5 1676.0,1142.5 1679.2,1142.5 1682.4,1142.5 1685.6,1142.6 1688.8,1142.8 1692.0,1143.2 1695.2,1143.8 1698.4,1144.4 1701.6,1145.0 1704.8,1145.5 1708.0,1145.8 1711.2,1146.0 1714.4,1146.0 1717.6,1146.0 1720.8,1146.0 1724.0,1146.0 1727.2,1146.0 1727.2,1150.0 1724.0,1150.0 1720.8,1150.0 1717.6,1150.0 1714.4,1150.0 1711.2,1150.0 1708.0,1149.8 1704.8,1149.5 1701.6,1149.0 1698.4,1148.4 1695.2,1147.8 1692.0,1147.2 1688.8,1146.8 1685.6,1146.6 1682.4,1146.5 1679.2,1146.5 1676.0,1146.5 1672.8,1146.5 1669.6,1146.5 1666.4,1146.5 1663.2,1146.5 1660.0,1146.5 1656.8,1146.5 1653.6,1146.4 1650.4,1146.2 1647.2,1145.9 1644.0,1145.6 1640.8,1145.3 1637.6,1145.0 1634.4,1144.8 1631.2,1144.7 1628.0,1144.7 1624.8,1144.7 1621.6,1144.7 1618.4,1144.6 1615.2,1144.4 1612.0,1144.2 1608.8,1143.9 1605.6,1143.6 1602.4,1143.3 1599.2,1143.2 1596.0,1143.3 1592.8,1143.6 1589.6,1143.9 1586.4,1144.1 1583.2,1144.3 1580.0,1144.4 1576.8,1144.2 1573.6,1143.9 1570.4,1143.6 1567.2,1143.3 1564.0,1142.8 1560.8,1142.3 1557.6,1141.7 1554.4,1141.1 1551.2,1140.5 1548.0,1140.0 1544.8,1139.7 1541.6,1139.8 1538.4,1140.0 1535.2,1140.3 1532.0,1140.6 1528.8,1141.0 1525.6,1141.3 1522.4,1141.6 1519.2,1141.9 1516.0,1142.3 1512.8,1142.6 1509.6,1142.9 1506.4,1143.2 1503.2,1143.5 1500.0,1143.9 1496.8,1144.1 1493.6,1144.2 1490.4,1143.9 1487.2,1143.3 1484.0,1142.4 1480.8,1141.4 1477.6,1140.6 1474.4,1139.9 1471.2,1139.5 1468.0,1139.3 1464.8,1139.3 1461.6,1139.3 1458.4,1139.2 1455.2,1138.9 1452.0,1138.5 1448.8,1137.9 1445.6,1137.2 1442.4,1136.6 1439.2,1136.0 1436.0,1135.4 1432.8,1134.9 1429.6,1134.4 1426.4,1134.1 1423.2,1133.8 1420.0,1133.4 1416.8,1132.8 1413.6,1132.0 1410.4,1130.9 1407.2,1129.7 1404.0,1128.4 1400.8,1127.1 1397.6,1125.9 1394.4,1124.6 1391.2,1123.3 1388.0,1122.0 1384.8,1120.8 1381.6,1119.7 1378.4,1118.4 1375.2,1115.4 1372.0,1108.2 1368.8,1096.7 1365.6,1086.4 1362.4,1085.3 1359.2,1094.8 1356.0,1107.9 1352.8,1117.7 1349.6,1122.7 1346.4,1125.2 1343.2,1127.0 1340.0,1128.5 1336.8,1129.8 1333.6,1130.5 1330.4,1130.6 1327.2,1130.4 1324.0,1130.1 1320.8,1129.9 1317.6,1129.8 1314.4,1130.1 1311.2,1130.6 1308.0,1131.2 1304.8,1131.8 1301.6,1132.4 1298.4,1132.8 1295.2,1132.9 1292.0,1133.0 1288.8,1133.0 1285.6,1133.0 1282.4,1132.8 1279.2,1132.4 1276.0,1131.9 1272.8,1131.3 1269.6,1130.6 1266.4,1129.8 1263.2,1128.8 1260.0,1127.3 1256.8,1125.6 1253.6,1124.4 1250.4,1124.1 1247.2,1125.2 1244.0,1127.2 1240.8,1129.4 1237.6,1130.9 1234.4,1131.4 1231.2,1130.8 1228.0,1129.7 1224.8,1128.5 1221.6,1127.7 1218.4,1127.8 1215.2,1129.0 1212.0,1130.6 1208.8,1131.9 1205.6,1132.3 1202.4,1132.2 1199.2,1132.0 1196.0,1131.6 1192.8,1131.2 1189.6,1130.7 1186.4,1130.2 1183.2,1129.6 1180.0,1129.0 1176.8,1128.5 1173.6,1128.3 1170.4,1128.5 1167.2,1129.0 1164.0,1129.6 1160.8,1130.2 1157.6,1130.9 1154.4,1131.5 1151.2,1132.3 1148.0,1133.0 1144.8,1133.7 1141.6,1134.4 1138.4,1135.2 1135.2,1135.9 1132.0,1136.6 1128.8,1137.3 1125.6,1137.7 1122.4,1137.7 1119.2,1137.3 1116.0,1136.7 1112.8,1136.0 1109.6,1135.2 1106.4,1134.0 1103.2,1132.2 1100.0,1130.1 1096.8,1127.9 1093.6,1125.8 1090.4,1124.4 1087.2,1124.2 1084.0,1125.2 1080.8,1126.7 1077.6,1128.0 1074.4,1128.9 1071.2,1129.8 1068.0,1130.6 1064.8,1131.4 1061.6,1132.1 1058.4,1132.8 1055.2,1133.3 1052.0,1133.8 1048.8,1134.1 1045.6,1134.2 1042.4,1134.0 1039.2,1133.3 1036.0,1132.4 1032.8,1131.5 1029.6,1130.6 1026.4,1129.9 1023.2,1129.6 1020.0,1129.4 1016.8,1129.4 1013.6,1129.4 1010.4,1129.3 1007.2,1129.0 1004.0,1128.6 1000.8,1128.0 997.6,1127.4 994.4,1126.8 991.2,1126.3 988.0,1126.0 984.8,1125.9 981.6,1125.9 978.4,1125.6 975.2,1124.6 972.0,1122.2 968.8,1118.5 965.6,1113.0 962.4,1104.2 959.2,1094.9 956.0,1093.0 952.8,1100.6 949.6,1109.2 946.4,1114.3 943.2,1117.9 940.0,1121.7 936.8,1125.2 933.6,1127.4 930.4,1127.9 927.2,1127.5 924.0,1126.9 920.8,1126.2 917.6,1124.7 914.4,1119.5 911.2,1108.5 908.0,1098.6 904.8,1101.0 901.6,1112.7 898.4,1121.8 895.2,1125.3 892.0,1126.5 888.8,1127.6 885.6,1128.9 882.4,1130.3 879.2,1131.3 876.0,1131.4 872.8,1130.5 869.6,1129.3 866.4,1128.2 863.2,1127.3 860.0,1126.7 856.8,1126.1 853.6,1125.6 850.4,1125.1 847.2,1124.5 844.0,1123.8 840.8,1122.9 837.6,1121.8 834.4,1120.6 831.2,1118.8 828.0,1116.2 824.8,1112.6 821.6,1108.9 818.4,1105.5 815.2,1102.1 812.0,1098.1 808.8,1093.2 805.6,1088.2 802.4,1084.3 799.2,1082.2 796.0,1081.3 792.8,1080.9 789.6,1080.7 786.4,1080.9 783.2,1082.0 780.0,1084.0 776.8,1086.4 773.6,1088.9 770.4,1090.8 767.2,1091.6 764.0,1091.2 760.8,1090.1 757.6,1088.9 754.4,1087.7 751.2,1086.8 748.0,1086.1 744.8,1085.7 741.6,1085.3 738.4,1085.0 735.2,1084.6 732.0,1084.1 728.8,1083.5 725.6,1082.7 722.4,1081.9 719.2,1081.2 716.0,1080.6 712.8,1080.5 709.6,1081.0 706.4,1082.0 703.2,1083.1 700.0,1084.3 696.8,1085.0 693.6,1085.1 690.4,1084.3 687.2,1083.0 684.0,1081.4 680.8,1080.0 677.6,1079.0 674.4,1079.0 671.2,1080.2 668.0,1082.1 664.8,1083.9 661.6,1084.8 658.4,1084.7 655.2,1083.9 652.0,1083.0 648.8,1082.5 645.6,1082.5 642.4,1082.7 639.2,1083.0 636.0,1083.3 632.8,1083.7 629.6,1084.0 626.4,1084.4 623.2,1084.8 620.0,1085.2 616.8,1085.6 613.6,1085.5 610.4,1084.7 607.2,1082.7 604.0,1080.2 600.8,1078.0 597.6,1077.0 594.4,1078.0 591.2,1080.3 588.0,1082.7 584.8,1084.1 581.6,1084.9 578.4,1085.4 575.2,1085.8 572.0,1086.1 568.8,1086.2 565.6,1086.1 562.4,1085.9 559.2,1085.7 556.0,1085.9 552.8,1087.1 549.6,1089.4 546.4,1092.3 543.2,1095.0 540.0,1096.8 536.8,1097.6 533.6,1098.0 530.4,1098.6 527.2,1099.6 524.0,1100.8 520.8,1101.8 517.6,1102.4 514.4,1102.6 511.2,1102.6 508.0,1102.6 504.8,1102.6 501.6,1102.6 498.4,1102.7 495.2,1102.9 492.0,1103.2 488.8,1103.5 485.6,1103.8 482.4,1104.1 479.2,1104.4 476.0,1104.6 472.8,1104.8 469.6,1104.8 466.4,1104.8 463.2,1104.8 460.0,1104.8 456.8,1104.8 453.6,1104.8 450.4,1104.8 447.2,1104.8 444.0,1104.8 440.8,1104.8 437.6,1104.8 434.4,1104.8 431.2,1104.9 428.0,1105.1 424.8,1105.4 421.6,1105.7 418.4,1106.0 415.2,1106.3 412.0,1106.6 408.8,1106.7 405.6,1106.6 402.4,1106.4 399.2,1106.1 396.0,1105.8 392.8,1105.4 389.6,1105.2 386.4,1105.0 383.2,1104.8 380.0,1104.8 376.8,1104.8 373.6,1104.8 370.4,1104.8 367.2,1104.7 364.0,1104.5 360.8,1104.1 357.6,1103.5 354.4,1102.9 351.2,1102.3 348.0,1101.6 344.8,1101.0 341.6,1100.5 338.4,1100.0 335.2,1099.7 332.0,1099.4 328.8,1099.1 325.6,1098.7 322.4,1098.4 319.2,1098.0 316.0,1097.4 312.8,1096.8 309.6,1096.2 306.4,1095.6 303.2,1094.9 300.0,1094.3 296.8,1093.9 293.6,1093.7 290.4,1093.6 287.2,1093.6 284.0,1093.6 280.8,1093.6 277.6,1093.5 274.4,1093.3 271.2,1092.9 268.0,1092.3 264.8,1091.7 261.6,1091.1 258.4,1090.5 255.2,1089.9 252.0,1089.4 248.8,1088.9 245.6,1088.6 242.4,1088.3 239.2,1088.0 236.0,1087.6 232.8,1087.4 229.6,1087.3 226.4,1087.4 223.2,1087.6 220.0,1087.9 216.8,1088.3 213.6,1088.5 210.4,1088.8 207.2,1088.7 204.0,1088.4 200.8,1087.9 197.6,1087.3 194.4,1086.6 191.2,1085.9 188.0,1085.1 184.8,1083.8 181.6,1081.9 178.4,1079.5 175.2,1077.0 172.0,1074.4 168.8,1071.9 165.6,1069.2 162.4,1066.5 159.2,1063.5 156.0,1060.6 152.8,1058.5" fill="#0000ff" stroke="none"/>
<path d="M152.8 1046.0V1058.2M156.0 1042.5V1066.0M159.2 1055.4V1066.1M162.4 1062.7V1066.3M165.6 1059.9V1068.5M168.8 1066.7V1074.6M172.0 1062.6V1081.2M175.2 1073.5V1083.0M178.4 1073.9V1080.2M181.6 1076.2V1081.6M184.8 1079.1V1084.0M188.0 1081.2V1091.4M191.2 1082.5V1097.2M194.4 1081.0V1085.0M197.6 1081.7V1087.5M200.8 1083.3V1094.5M204.0 1084.5V1099.7M207.2 1078.5V1092.1M210.4 1079.0V1091.0M213.6 1085.4V1089.0M216.8 1080.0V1092.6M220.0 1083.9V1090.1M223.2 1076.5V1093.2M226.4 1078.1V1086.2M229.6 1083.7V1087.1M232.8 1078.4V1090.8M236.0 1081.1V1093.5M239.2 1080.0V1088.2M242.4 1079.3V1087.6M245.6 1084.8V1092.9M248.8 1081.8V1087.8M252.0 1086.0V1091.2M255.2 1085.8V1088.3M258.4 1084.4V1095.4M261.6 1087.2V1091.0M264.8 1084.5V1094.0M268.0 1085.9V1093.1M271.2 1089.4V1094.9M274.4 1085.5V1099.2M277.6 1088.5V1093.7M280.8 1084.9V1094.4M284.0 1089.2V1093.3M287.2 1088.2V1091.8M290.4 1088.2V1095.1M293.6 1090.5V1097.3M296.8 1089.5V1093.3M300.0 1090.7V1096.9M303.2 1089.4V1094.1M306.4 1090.8V1094.4M309.6 1087.4V1097.6M312.8 1094.3V1099.0M316.0 1092.2V1098.9M319.2 1095.2V1098.0M322.4 1091.5V1106.9M325.6 1093.5V1099.0M328.8 1092.8V1103.5M332.0 1095.6V1098.3M335.2 1090.0V1101.4M338.4 1096.2V1106.7M341.6 1096.6V1101.8M344.8 1095.9V1101.9M348.0 1096.4V1101.8M351.2 1097.0V1106.7M354.4 1097.6V1106.5M357.6 1097.9V1105.6M360.8 1096.5V1104.4M364.0 1099.8V1103.5M367.2 1090.4V1103.0M370.4 1098.4V1109.3M373.6 1097.9V1105.8M376.8 1097.2V1105.3M380.0 1100.9V1109.7M383.2 1094.4V1105.5M386.4 1101.4V1105.0M389.6 1099.6V1104.0M392.8 1100.1V1104.3M396.0 1103.3V1104.8M399.2 1103.3V1107.9M402.4 1101.1V1106.3M405.6 1104.5V1105.6M408.8 1102.8V1107.2M412.0 1095.7V1112.7M415.2 1096.8V1106.5M418.4 1098.9V1109.5M421.6 1099.7V1105.0M424.8 1100.9V1106.6M428.0 1098.3V1104.4M431.2 1102.0V1106.9M434.4 1097.3V1104.2M437.6 1101.2V1112.1M440.8 1095.2V1111.2M444.0 1102.2V1108.4M447.2 1097.4V1106.4M450.4 1101.8V1103.8M453.6 1101.1V1108.5M456.8 1096.4V1102.9M460.0 1096.7V1104.8M463.2 1101.2V1106.7M466.4 1102.1V1103.6M469.6 1101.5V1105.4M472.8 1095.6V1104.9M476.0 1099.5V1116.3M479.2 1095.4V1106.7M482.4 1100.7V1107.6M485.6 1097.6V1104.8M488.8 1097.2V1102.1M492.0 1091.7V1104.8M495.2 1095.9V1101.2M498.4 1099.5V1101.8M501.6 1097.3V1104.2M504.8 1096.6V1103.9M508.0 1099.0V1102.1M511.2 1100.0V1103.7M514.4 1100.2V1102.1M517.6 1095.2V1102.7M520.8 1095.4V1105.2M524.0 1094.9V1103.9M527.2 1091.6V1101.2M530.4 1089.9V1102.2M533.6 1094.5V1096.5M536.8 1091.0V1104.7M540.0 1093.0V1096.0M543.2 1080.8V1097.1M546.4 1088.3V1094.1M549.6 1081.7V1089.9M552.8 1081.4V1095.6M556.0 1083.3V1090.2M559.2 1080.2V1088.0M562.4 1082.2V1086.8M565.6 1082.4V1086.6M568.8 1074.1V1084.9M572.0 1072.1V1085.6M575.2 1079.3V1084.1M578.4 1082.7V1084.2M581.6 1081.9V1086.9M584.8 1078.6V1090.3M588.0 1075.9V1087.0M591.2 1076.0V1081.9M594.4 1071.8V1081.7M597.6 1067.2V1074.2M600.8 1072.3V1079.7M604.0 1067.4V1079.7M607.2 1078.2V1091.2M610.4 1078.6V1086.8M613.6 1083.8V1085.4M616.8 1078.4V1086.6M620.0 1078.1V1084.4M623.2 1082.3V1091.6M626.4 1079.6V1083.7M629.6 1080.5V1086.9M632.8 1081.3V1087.1M636.0 1078.3V1081.8M639.2 1078.8V1087.7M642.4 1078.5V1086.4M645.6 1076.2V1081.2M648.8 1079.7V1083.7M652.0 1066.8V1086.4M655.2 1077.4V1084.0M658.4 1082.0V1083.8M661.6 1071.8V1086.6M664.8 1079.3V1085.3M668.0 1067.6V1081.5M671.2 1068.0V1081.2M674.4 1068.9V1078.5M677.6 1074.8V1086.0M680.8 1072.5V1083.2M684.0 1068.6V1080.3M687.2 1075.0V1085.0M690.4 1076.1V1085.8M693.6 1082.1V1089.1M696.8 1080.9V1086.9M700.0 1079.8V1090.5M703.2 1080.5V1086.5M706.4 1078.6V1085.8M709.6 1073.1V1086.1M712.8 1076.7V1078.9M716.0 1073.5V1088.0M719.2 1074.4V1081.7M722.4 1067.5V1080.3M725.6 1075.3V1081.7M728.8 1077.8V1087.4M732.0 1074.2V1085.1M735.2 1081.3V1083.0M738.4 1076.9V1087.0M741.6 1072.9V1083.6M744.8 1077.6V1087.2M748.0 1081.2V1086.3M751.2 1080.3V1091.6M754.4 1083.4V1090.1M757.6 1084.6V1088.6M760.8 1078.8V1091.6M764.0 1087.3V1096.9M767.2 1085.0V1090.8M770.4 1086.4V1098.2M773.6 1079.5V1091.6M776.8 1078.2V1087.4M780.0 1068.7V1084.8M783.2 1068.1V1083.6M786.4 1072.2V1079.2M789.6 1074.7V1078.7M792.8 1078.3V1079.3M796.0 1075.6V1085.7M799.2 1073.5V1085.7M802.4 1079.5V1089.6M805.6 1081.9V1088.3M808.8 1085.3V1099.9M812.0 1093.1V1100.4M815.2 1095.4V1102.5M818.4 1093.5V1107.7M821.6 1093.8V1114.1M824.8 1107.8V1113.0M828.0 1108.1V1118.5M831.2 1113.0V1119.1M834.4 1117.0V1126.3M837.6 1117.6V1126.1M840.8 1117.9V1122.6M844.0 1120.6V1124.8M847.2 1117.8V1124.9M850.4 1116.5V1128.7M853.6 1119.0V1126.6M856.8 1122.8V1126.4M860.0 1122.6V1125.0M863.2 1117.7V1127.8M866.4 1120.3V1127.5M869.6 1117.3V1129.4M872.8 1117.5V1130.2M876.0 1125.0V1136.7M879.2 1124.8V1131.1M882.4 1122.5V1132.2M885.6 1125.4V1135.8M888.8 1116.9V1128.6M892.0 1120.0V1128.4M895.2 1119.4V1126.4M898.4 1119.8V1124.2M901.6 1104.7V1122.3M904.8 1080.9V1113.1M908.0 1079.4V1096.3M911.2 1094.2V1125.9M914.4 1111.8V1124.2M917.6 1123.1V1125.5M920.8 1119.5V1126.8M924.0 1122.6V1128.9M927.2 1123.2V1131.8M930.4 1121.8V1126.8M933.6 1123.0V1129.2M936.8 1120.6V1129.2M940.0 1117.5V1124.5M943.2 1110.3V1125.1M946.4 1110.2V1114.8M949.6 1107.0V1115.3M952.8 1091.2V1113.1M956.0 1078.4V1096.8M959.2 1073.8V1101.8M962.4 1086.1V1113.6M965.6 1108.7V1120.8M968.8 1105.4V1119.0M972.0 1116.5V1132.7M975.2 1121.4V1129.6M978.4 1123.7V1127.0M981.6 1119.6V1126.8M984.8 1122.6V1127.7M988.0 1111.1V1125.5M991.2 1118.7V1126.5M994.4 1117.5V1129.7M997.6 1118.1V1126.6M1000.8 1125.4V1128.9M1004.0 1118.9V1128.0M1007.2 1117.1V1129.4M1010.4 1117.4V1128.3M1013.6 1126.2V1132.4M1016.8 1126.9V1127.7M1020.0 1126.6V1136.1M1023.2 1121.7V1130.6M1026.4 1125.3V1133.2M1029.6 1123.4V1137.3M1032.8 1126.3V1131.9M1036.0 1123.2V1141.7M1039.2 1130.4V1138.2M1042.4 1131.8V1135.2M1045.6 1131.4V1133.2M1048.8 1128.0V1136.1M1052.0 1129.5V1134.7M1055.2 1130.2V1136.8M1058.4 1124.7V1136.9M1061.6 1129.2V1135.6M1064.8 1128.5V1140.1M1068.0 1128.0V1132.0M1071.2 1119.2V1129.9M1074.4 1122.7V1132.2M1077.6 1124.0V1134.9M1080.8 1120.1V1132.1M1084.0 1120.8V1131.5M1087.2 1120.7V1126.1M1090.4 1118.1V1125.1M1093.6 1118.2V1129.8M1096.8 1116.7V1127.1M1100.0 1125.0V1133.0M1103.2 1126.3V1131.4M1106.4 1129.4V1140.0M1109.6 1123.8V1135.9M1112.8 1133.6V1144.2M1116.0 1132.2V1137.7M1119.2 1134.8V1136.1M1122.4 1133.5V1138.5M1125.6 1135.6V1143.9M1128.8 1128.3V1137.9M1132.0 1132.6V1138.3M1135.2 1129.8V1134.6M1138.4 1132.7V1134.2M1141.6 1130.5V1132.9M1144.8 1126.9V1140.6M1148.0 1127.3V1138.3M1151.2 1124.0V1132.9M1154.4 1127.9V1130.2M1157.6 1125.3V1130.4M1160.8 1121.1V1130.8M1164.0 1124.8V1133.9M1167.2 1122.3V1130.3M1170.4 1118.0V1131.8M1173.6 1123.7V1131.7M1176.8 1121.9V1137.3M1180.0 1121.3V1127.9M1183.2 1122.0V1131.3M1186.4 1125.0V1134.2M1189.6 1127.9V1129.7M1192.8 1117.0V1133.3M1196.0 1125.6V1133.9M1199.2 1128.2V1132.6M1202.4 1124.0V1131.0M1205.6 1119.4V1133.7M1208.8 1128.4V1138.4M1212.0 1126.3V1135.3M1215.2 1113.6V1138.3M1218.4 1121.6V1128.5M1221.6 1124.5V1129.4M1224.8 1122.1V1129.8M1228.0 1126.1V1130.8M1231.2 1125.9V1133.0M1234.4 1127.5V1131.2M1237.6 1128.4V1135.0M1240.8 1123.5V1131.3M1244.0 1119.3V1134.0M1247.2 1121.1V1125.3M1250.4 1120.4V1126.5M1253.6 1112.7V1124.4M1256.8 1120.4V1124.9M1260.0 1117.0V1132.1M1263.2 1124.6V1133.0M1266.4 1122.2V1130.9M1269.6 1124.1V1129.0M1272.8 1124.9V1131.8M1276.0 1128.2V1132.7M1279.2 1126.1V1136.1M1282.4 1130.0V1131.6M1285.6 1127.5V1132.5M1288.8 1129.5V1136.4M1292.0 1126.3V1132.1M1295.2 1130.1V1133.4M1298.4 1128.3V1135.3M1301.6 1127.9V1135.1M1304.8 1129.2V1134.3M1308.0 1120.9V1130.9M1311.2 1127.5V1129.3M1314.4 1127.2V1130.8M1317.6 1126.2V1131.3M1320.8 1122.3V1131.2M1324.0 1123.9V1129.5M1327.2 1125.3V1130.3M1330.4 1122.8V1132.3M1333.6 1121.7V1133.7M1336.8 1126.3V1132.3M1340.0 1122.6V1127.7M1343.2 1117.5V1132.6M1346.4 1114.4V1125.9M1349.6 1120.0V1125.2M1352.8 1107.9V1121.1M1356.0 1097.5V1117.2M1359.2 1081.1V1102.7M1362.4 1069.1V1088.0M1365.6 1071.2V1094.2M1368.8 1081.3V1110.0M1372.0 1101.7V1116.5M1375.2 1108.0V1118.6M1378.4 1105.5V1118.6M1381.6 1110.0V1122.5M1384.8 1116.8V1120.1M1388.0 1117.3V1120.9M1391.2 1115.2V1134.6M1394.4 1119.9V1129.1M1397.6 1116.1V1125.3M1400.8 1119.8V1132.5M1404.0 1125.7V1127.9M1407.2 1124.9V1129.7M1410.4 1123.3V1132.1M1413.6 1128.9V1140.3M1416.8 1125.2V1131.6M1420.0 1121.3V1140.7M1423.2 1129.7V1132.5M1426.4 1127.2V1140.0M1429.6 1129.5V1136.4M1432.8 1124.6V1138.1M1436.0 1130.8V1135.1M1439.2 1130.4V1141.1M1442.4 1131.6V1135.8M1445.6 1129.9V1141.1M1448.8 1132.6V1140.8M1452.0 1135.2V1139.5M1455.2 1134.1V1138.4M1458.4 1129.0V1139.6M1461.6 1137.1V1137.7M1464.8 1136.7V1138.9M1468.0 1135.6V1138.3M1471.2 1136.6V1140.1M1474.4 1131.8V1138.4M1477.6 1128.0V1140.2M1480.8 1136.6V1144.9M1484.0 1135.1V1141.7M1487.2 1138.1V1142.2M1490.4 1141.0V1144.5M1493.6 1138.9V1144.0M1496.8 1130.9V1147.2M1500.0 1139.3V1147.8M1503.2 1138.5V1142.9M1506.4 1140.2V1142.1M1509.6 1136.1V1141.5M1512.8 1136.9V1143.3M1516.0 1137.0V1146.3M1519.2 1139.3V1141.3M1522.4 1130.8V1140.4M1525.6 1132.9V1142.3M1528.8 1134.8V1144.2M1532.0 1138.4V1143.8M1535.2 1133.7V1143.0M1538.4 1136.0V1142.6M1541.6 1135.1V1147.6M1544.8 1132.9V1140.4M1548.0 1135.2V1143.7M1551.2 1136.3V1144.9M1554.4 1133.2V1142.4M1557.6 1137.2V1147.5M1560.8 1133.6V1144.8M1564.0 1139.0V1146.1M1567.2 1135.3V1153.6M1570.4 1138.9V1146.5M1573.6 1139.1V1151.7M1576.8 1137.7V1145.4M1580.0 1141.9V1145.7M1583.2 1141.1V1147.0M1586.4 1137.7V1148.4M1589.6 1138.6V1147.2M1592.8 1134.6V1143.0M1596.0 1141.0V1150.5M1599.2 1132.2V1149.6M1602.4 1133.6V1146.6M1605.6 1138.5V1153.1M1608.8 1140.4V1148.8M1612.0 1140.5V1146.3M1615.2 1139.3V1143.6M1618.4 1141.5V1142.7M1621.6 1141.4V1150.0M1624.8 1137.9V1143.2M1628.0 1139.9V1143.5M1631.2 1140.5V1144.8M1634.4 1141.6V1150.3M1637.6 1137.4V1145.9M1640.8 1142.6V1144.0M1644.0 1138.9V1147.4M1647.2 1140.1V1144.8M1650.4 1138.9V1146.0M1653.6 1125.9V1146.5M1656.8 1138.7V1151.2M1660.0 1138.3V1148.3M1663.2 1140.7V1145.8M1666.4 1143.4V1154.5M1669.6 1144.2V1152.3M1672.8 1143.2V1146.6M1676.0 1142.4V1152.6M1679.2 1141.8V1147.3M1682.4 1137.5V1150.9M1685.6 1130.9V1148.3M1688.8 1142.0V1145.2M1692.0 1141.7V1149.3M1695.2 1143.8V1149.5M1698.4 1145.4V1147.9M1701.6 1139.8V1149.0M1704.8 1146.4V1148.1M1708.0 1139.6V1152.8M1711.2 1147.8V1154.3M1714.4 1146.9V1148.6M1717.6 1143.1V1153.0M1720.8 1138.9V1149.0M1724.0 1146.1V1149.7M1727.2 1147.7V1148.2" stroke="#0000ff" stroke-width="3.3" stroke-linecap="butt"/>
<path d="M583.82 751.8L584.02 751.6L584.22 751.4L584.42 751.2L584.62 750.8L584.82 750.4L585.02 749.9L585.22 749.2L585.42 748.4L585.62 747.4L585.82 746.1L586.02 744.7L586.22 743.0L586.42 741.2L586.62 739.2L586.82 737.0L587.02 734.9L587.22 732.8L587.42 730.9L587.62 729.2L587.82 727.9L588.02 726.9L588.22 726.5L588.42 726.5L588.62 727.0L588.82 727.9L589.02 729.3L589.22 731.0L589.42 732.9L589.62 734.9L589.82 737.0L590.02 739.0L590.22 740.9L590.42 742.6L590.62 744.2L590.82 745.5L591.02 746.7L591.22 747.6L591.42 748.3L591.62 748.9L591.82 749.3L592.02 749.7L592.22 749.9L592.42 750.1L592.62 750.2M603.16 749.2L603.36 749.1L603.56 748.8L603.76 748.5L603.96 748.1L604.16 747.5L604.36 746.6L604.56 745.5L604.76 744.1L604.96 742.4L605.16 740.2L605.36 737.8L605.56 735.1L605.76 732.3L605.96 729.4L606.16 726.7L606.36 724.4L606.56 722.6L606.76 721.5L606.96 721.2L607.16 721.7L607.36 723.1L607.56 725.2L607.76 727.9L607.96 731.0L608.16 734.4L608.36 737.8L608.56 741.1L608.76 744.2L608.96 747.0L609.16 749.4L609.36 751.4L609.56 753.1L609.76 754.5L609.96 755.7L610.16 756.6L610.36 757.4L610.56 758.1L610.76 758.7M658.80 801.0L659.00 800.5L659.20 799.9L659.40 799.1L659.60 798.1L659.80 796.8L660.00 795.2L660.20 793.1L660.40 790.5L660.60 787.3L660.80 783.5L661.00 779.0L661.20 773.7L661.40 767.7L661.60 761.1L661.80 754.0L662.00 746.5L662.20 738.9L662.40 731.5L662.60 724.5L662.80 718.2L663.00 712.9L663.20 708.9L663.40 706.3L663.60 705.4L663.80 706.1L664.00 708.3L664.20 712.0L664.40 717.0L664.60 723.0L664.80 729.7L665.00 736.8L665.20 744.1L665.40 751.3L665.60 758.1L665.80 764.4L666.00 770.1L666.20 775.0L666.40 779.2L666.60 782.8L666.80 785.6L667.00 787.9L667.20 789.7L667.40 791.0L667.60 792.0L667.80 792.7L668.00 793.1L668.20 793.5L668.40 793.7M710.38 829.6L710.58 829.6L710.78 829.6L710.98 829.5L711.18 829.4L711.38 829.3L711.58 829.2L711.78 829.0L711.98 828.8L712.18 828.5L712.38 828.2L712.58 827.8L712.78 827.3L712.98 826.8L713.18 826.2L713.38 825.5L713.58 824.8L713.78 824.0L713.98 823.3L714.18 822.5L714.38 821.8L714.58 821.1L714.78 820.6L714.98 820.1L715.18 819.8L715.38 819.6L715.58 819.6L715.78 819.8L715.98 820.1L716.18 820.5L716.38 821.0L716.58 821.7L716.78 822.4L716.98 823.1L717.18 823.9L717.38 824.7L717.58 825.4L717.78 826.2L717.98 826.8L718.18 827.4L718.38 828.0L718.58 828.4L718.78 828.9L718.98 829.2L719.18 829.6L719.38 829.9L719.58 830.2L719.78 830.4L719.98 830.6L720.18 830.9L720.38 831.1L720.58 831.3M871.88 863.2L872.08 863.1L872.28 863.0L872.48 862.9L872.68 862.8L872.88 862.7L873.08 862.5L873.28 862.4L873.48 862.1L873.68 861.9L873.88 861.6L874.08 861.2L874.28 860.8L874.48 860.3L874.68 859.8L874.88 859.2L875.08 858.6L875.28 858.0L875.48 857.4L875.68 856.7L875.88 856.1L876.08 855.6L876.28 855.2L876.48 854.8L876.68 854.5L876.88 854.4L877.08 854.4L877.28 854.5L877.48 854.8L877.68 855.2L877.88 855.6L878.08 856.2L878.28 856.8L878.48 857.4L878.68 858.1L878.88 858.8L879.08 859.4L879.28 860.1L879.48 860.6L879.68 861.2L879.88 861.6L880.08 862.1L880.28 862.4L880.48 862.8L880.68 863.0L880.88 863.3L881.08 863.5L881.28 863.7L881.48 863.9L881.68 864.0L881.88 864.2L882.08 864.3" stroke="#000" stroke-width="3.0"/>
<path d="M555.48 1083.2L555.68 1083.1L555.88 1083.0L556.08 1082.8L556.28 1082.6L556.48 1082.3L556.68 1081.9L556.88 1081.4L557.08 1080.7L557.28 1079.9L557.48 1078.9L557.68 1077.7L557.88 1076.4L558.08 1074.8L558.28 1073.0L558.48 1071.0L558.68 1068.9L558.88 1066.7L559.08 1064.4L559.28 1062.2L559.48 1060.1L559.68 1058.2L559.88 1056.5L560.08 1055.2L560.28 1054.2L560.48 1053.8L560.68 1053.7L560.88 1054.2L561.08 1055.0L561.28 1056.3L561.48 1058.0L561.68 1059.9L561.88 1062.0L562.08 1064.3L562.28 1066.6L562.48 1068.8L562.68 1071.0L562.88 1073.0L563.08 1074.9L563.28 1076.6L563.48 1078.0L563.68 1079.3L563.88 1080.3L564.08 1081.2L564.28 1081.9L564.48 1082.5L564.68 1082.9L564.88 1083.2L565.08 1083.5L565.28 1083.7L565.48 1083.8L565.68 1084.0M575.96 1082.3L576.16 1081.6L576.36 1080.7L576.56 1079.5L576.76 1077.9L576.96 1075.8L577.16 1073.0L577.36 1069.5L577.56 1065.1L577.76 1059.6L577.96 1053.0L578.16 1045.0L578.36 1035.7L578.56 1024.9L578.76 1012.7L578.96 999.1L579.16 984.2L579.36 968.4L579.56 951.9L579.76 935.0L579.96 918.3L580.16 902.3L580.36 887.4L580.56 874.2L580.76 863.2L580.96 854.8L581.16 849.4L581.36 847.1L581.56 848.0L581.76 852.2L581.96 859.4L582.16 869.4L582.36 881.7L582.56 895.9L582.76 911.5L582.96 927.9L583.16 944.7L583.36 961.3L583.56 977.5L583.76 992.7L583.96 1006.7L584.16 1019.5L584.36 1030.8L584.56 1040.6L584.76 1049.1L584.96 1056.2L585.16 1062.0L585.36 1066.8L585.56 1070.6L585.76 1073.5L585.96 1075.8L586.16 1077.5L586.36 1078.8L586.56 1079.7L586.76 1080.4M599.44 1074.1L599.64 1074.1L599.84 1074.1L600.04 1074.0L600.24 1073.9L600.44 1073.7L600.64 1073.5L600.84 1073.1L601.04 1072.5L601.24 1071.8L601.44 1071.0L601.64 1069.9L601.84 1068.6L602.04 1067.0L602.24 1065.2L602.44 1063.2L602.64 1061.0L602.84 1058.5L603.04 1055.9L603.24 1053.2L603.44 1050.4L603.64 1047.7L603.84 1045.0L604.04 1042.5L604.24 1040.3L604.44 1038.4L604.64 1036.9L604.84 1035.8L605.04 1035.3L605.24 1035.3L605.44 1035.9L605.64 1037.0L605.84 1038.6L606.04 1040.6L606.24 1043.0L606.44 1045.7L606.64 1048.6L606.84 1051.7L607.04 1054.8L607.24 1057.9L607.44 1061.0L607.64 1063.9L607.84 1066.6L608.04 1069.1L608.24 1071.4L608.44 1073.4L608.64 1075.2L608.84 1076.7L609.04 1078.0L609.24 1079.2L609.44 1080.1L609.64 1080.9L609.84 1081.5L610.04 1082.0L610.24 1082.5L610.44 1082.8L610.64 1083.1L610.84 1083.3M676.94 1076.0L677.14 1076.0L677.34 1076.0L677.54 1076.0L677.74 1075.9L677.94 1075.9L678.14 1075.7L678.34 1075.5L678.54 1075.3L678.74 1074.9L678.94 1074.5L679.14 1073.9L679.34 1073.3L679.54 1072.5L679.74 1071.6L679.94 1070.6L680.14 1069.5L680.34 1068.3L680.54 1067.0L680.74 1065.7L680.94 1064.3L681.14 1062.9L681.34 1061.6L681.54 1060.3L681.74 1059.2L681.94 1058.3L682.14 1057.6L682.34 1057.0L682.54 1056.8L682.74 1056.8L682.94 1057.1L683.14 1057.7L683.34 1058.5L683.54 1059.5L683.74 1060.7L683.94 1062.0L684.14 1063.5L684.34 1065.1L684.54 1066.6L684.74 1068.2L684.94 1069.8L685.14 1071.2L685.34 1072.6L685.54 1073.9L685.74 1075.0L685.94 1076.0L686.14 1076.9L686.34 1077.7L686.54 1078.4L686.74 1079.0L686.94 1079.5L687.14 1079.9L687.34 1080.3L687.54 1080.6L687.74 1080.8L687.94 1081.1L688.14 1081.2L688.34 1081.4M700.14 1081.9L700.34 1081.7L700.54 1081.4L700.74 1081.0L700.94 1080.6L701.14 1080.0L701.34 1079.3L701.54 1078.4L701.74 1077.3L701.94 1075.9L702.14 1074.3L702.34 1072.4L702.54 1070.2L702.74 1067.6L702.94 1064.7L703.14 1061.4L703.34 1057.8L703.54 1053.9L703.74 1049.8L703.94 1045.5L704.14 1041.1L704.34 1036.7L704.54 1032.5L704.74 1028.6L704.94 1025.0L705.14 1021.9L705.34 1019.3L705.54 1017.5L705.74 1016.4L705.94 1016.1L706.14 1016.6L706.34 1017.8L706.54 1019.8L706.74 1022.4L706.94 1025.6L707.14 1029.2L707.34 1033.1L707.54 1037.2L707.74 1041.5L707.94 1045.7L708.14 1049.8L708.34 1053.7L708.54 1057.3L708.74 1060.6L708.94 1063.6L709.14 1066.2L709.34 1068.5L709.54 1070.5L709.74 1072.1L709.94 1073.5L710.14 1074.6L710.34 1075.4L710.54 1076.1L710.74 1076.7L710.94 1077.1L711.14 1077.3L711.34 1077.6L711.54 1077.7M737.92 1082.5L738.12 1082.3L738.32 1082.1L738.52 1081.8L738.72 1081.5L738.92 1081.0L739.12 1080.3L739.32 1079.5L739.52 1078.5L739.72 1077.3L739.92 1075.8L740.12 1074.0L740.32 1071.9L740.52 1069.4L740.72 1066.6L740.92 1063.4L741.12 1059.8L741.32 1055.9L741.52 1051.8L741.72 1047.3L741.92 1042.7L742.12 1038.0L742.32 1033.4L742.52 1028.8L742.72 1024.5L742.92 1020.5L743.12 1017.0L743.32 1014.1L743.52 1011.9L743.72 1010.4L743.92 1009.7L744.12 1009.8L744.32 1010.7L744.52 1012.4L744.72 1014.8L744.92 1017.9L745.12 1021.5L745.32 1025.6L745.52 1030.0L745.72 1034.7L745.92 1039.4L746.12 1044.1L746.32 1048.7L746.52 1053.2L746.72 1057.3L746.92 1061.2L747.12 1064.7L747.32 1067.9L747.52 1070.7L747.72 1073.1L747.92 1075.2L748.12 1077.0L748.32 1078.5L748.52 1079.7L748.72 1080.8L748.92 1081.6L749.12 1082.2L749.32 1082.7L749.52 1083.2L749.72 1083.5L749.92 1083.7M788.64 1077.8L788.84 1077.6L789.04 1077.3L789.24 1077.0L789.44 1076.6L789.64 1076.1L789.84 1075.4L790.04 1074.6L790.24 1073.7L790.44 1072.5L790.64 1071.1L790.84 1069.5L791.04 1067.6L791.24 1065.3L791.44 1062.8L791.64 1059.9L791.84 1056.6L792.04 1052.9L792.24 1048.9L792.44 1044.4L792.64 1039.7L792.84 1034.5L793.04 1029.1L793.24 1023.5L793.44 1017.6L793.64 1011.6L793.84 1005.7L794.04 999.7L794.24 994.0L794.44 988.5L794.64 983.4L794.84 978.7L795.04 974.6L795.24 971.2L795.44 968.5L795.64 966.6L795.84 965.5L796.04 965.3L796.24 965.9L796.44 967.4L796.64 969.6L796.84 972.7L797.04 976.4L797.24 980.8L797.44 985.7L797.64 991.0L797.84 996.7L798.04 1002.5L798.24 1008.5L798.44 1014.6L798.64 1020.5L798.84 1026.4L799.04 1032.0L799.24 1037.4L799.44 1042.4L799.64 1047.1L799.84 1051.5L800.04 1055.4L800.24 1059.0L800.44 1062.2L800.64 1065.1L800.84 1067.6L801.04 1069.8L801.24 1071.7L801.44 1073.3L801.64 1074.8L801.84 1076.0L802.04 1077.0L802.24 1077.9L802.44 1078.7L802.64 1079.4L802.84 1080.0L803.04 1080.5L803.24 1081.0M851.84 1123.2L852.04 1123.2L852.24 1123.2L852.44 1123.1L852.64 1123.0L852.84 1122.9L853.04 1122.7L853.24 1122.5L853.44 1122.2L853.64 1121.9L853.84 1121.4L854.04 1120.9L854.24 1120.2L854.44 1119.5L854.64 1118.6L854.84 1117.7L855.04 1116.6L855.24 1115.4L855.44 1114.2L855.64 1112.9L855.84 1111.6L856.04 1110.3L856.24 1109.0L856.44 1107.8L856.64 1106.8L856.84 1105.9L857.04 1105.1L857.24 1104.6L857.44 1104.3L857.64 1104.3L857.84 1104.5L858.04 1104.9L858.24 1105.6L858.44 1106.5L858.64 1107.5L858.84 1108.7L859.04 1110.0L859.24 1111.3L859.44 1112.7L859.64 1114.1L859.84 1115.4L860.04 1116.7L860.24 1117.9L860.44 1119.0L860.64 1119.9L860.84 1120.8L861.04 1121.6L861.24 1122.3L861.44 1122.8L861.64 1123.3L861.84 1123.7L862.04 1124.0L862.24 1124.3L862.44 1124.5L862.64 1124.7L862.84 1124.8L863.04 1124.9L863.24 1125.0M1064.68 1129.3L1064.88 1129.2L1065.08 1129.1L1065.28 1129.0L1065.48 1128.9L1065.68 1128.7L1065.88 1128.5L1066.08 1128.3L1066.28 1127.9L1066.48 1127.6L1066.68 1127.1L1066.88 1126.6L1067.08 1126.0L1067.28 1125.3L1067.48 1124.5L1067.68 1123.7L1067.88 1122.8L1068.08 1121.8L1068.28 1120.9L1068.48 1119.9L1068.68 1119.0L1068.88 1118.2L1069.08 1117.5L1069.28 1116.9L1069.48 1116.5L1069.68 1116.2L1069.88 1116.1L1070.08 1116.3L1070.28 1116.6L1070.48 1117.0L1070.68 1117.6L1070.88 1118.3L1071.08 1119.1L1071.28 1120.0L1071.48 1120.8L1071.68 1121.7L1071.88 1122.5L1072.08 1123.2L1072.28 1123.9L1072.48 1124.5L1072.68 1125.1L1072.88 1125.5L1073.08 1125.9L1073.28 1126.2L1073.48 1126.4L1073.68 1126.5L1073.88 1126.7L1074.08 1126.8L1074.28 1126.8L1074.48 1126.8L1074.68 1126.8L1074.88 1126.8M1177.58 1126.3L1177.78 1126.3L1177.98 1126.3L1178.18 1126.2L1178.38 1126.0L1178.58 1125.9L1178.78 1125.6L1178.98 1125.3L1179.18 1124.8L1179.38 1124.3L1179.58 1123.6L1179.78 1122.7L1179.98 1121.7L1180.18 1120.6L1180.38 1119.3L1180.58 1117.9L1180.78 1116.4L1180.98 1114.8L1181.18 1113.2L1181.38 1111.5L1181.58 1110.0L1181.78 1108.6L1181.98 1107.4L1182.18 1106.5L1182.38 1105.8L1182.58 1105.5L1182.78 1105.5L1182.98 1105.8L1183.18 1106.5L1183.38 1107.5L1183.58 1108.7L1183.78 1110.2L1183.98 1111.7L1184.18 1113.4L1184.38 1115.1L1184.58 1116.8L1184.78 1118.4L1184.98 1119.9L1185.18 1121.3L1185.38 1122.6L1185.58 1123.7L1185.78 1124.6L1185.98 1125.4L1186.18 1126.1L1186.38 1126.6L1186.58 1127.1L1186.78 1127.4L1186.98 1127.7L1187.18 1127.9L1187.38 1128.1L1187.58 1128.2L1187.78 1128.3" stroke="#000" stroke-width="3.6"/>
<path d="M555.48 1083.2L555.68 1083.1L555.88 1083.0L556.08 1082.8L556.28 1082.6L556.48 1082.3L556.68 1081.9L556.88 1081.4L557.08 1080.7L557.28 1079.9L557.48 1078.9L557.68 1077.7L557.88 1076.4L558.08 1074.8L558.28 1073.0L558.48 1071.0L558.68 1068.9L558.88 1066.7L559.08 1064.4L559.28 1062.2L559.48 1060.1L559.68 1058.2L559.88 1056.5L560.08 1055.2L560.28 1054.2L560.48 1053.8L560.68 1053.7L560.88 1054.2L561.08 1055.0L561.28 1056.3L561.48 1058.0L561.68 1059.9L561.88 1062.0L562.08 1064.3L562.28 1066.6L562.48 1068.8L562.68 1071.0L562.88 1073.0L563.08 1074.9L563.28 1076.6L563.48 1078.0L563.68 1079.3L563.88 1080.3L564.08 1081.2L564.28 1081.9L564.48 1082.5L564.68 1082.9L564.88 1083.2L565.08 1083.5L565.28 1083.7L565.48 1083.8L565.68 1084.0M575.96 1082.3L576.16 1081.6L576.36 1080.7L576.56 1079.5L576.76 1077.9L576.96 1075.8L577.16 1073.0L577.36 1069.5L577.56 1065.1L577.76 1059.6L577.96 1053.0L578.16 1045.0L578.36 1035.7L578.56 1024.9L578.76 1012.7L578.96 999.1L579.16 984.2L579.36 968.4L579.56 951.9L579.76 935.0L579.96 918.3L580.16 902.3L580.36 887.4L580.56 874.2L580.76 863.2L580.96 854.8L581.16 849.4L581.36 847.1L581.56 848.0L581.76 852.2L581.96 859.4L582.16 869.4L582.36 881.7L582.56 895.9L582.76 911.5L582.96 927.9L583.16 944.7L583.36 961.3L583.56 977.5L583.76 992.7L583.96 1006.7L584.16 1019.5L584.36 1030.8L584.56 1040.6L584.76 1049.1L584.96 1056.2L585.16 1062.0L585.36 1066.8L585.56 1070.6L585.76 1073.5L585.96 1075.8L586.16 1077.5L586.36 1078.8L586.56 1079.7L586.76 1080.4M599.44 1074.1L599.64 1074.1L599.84 1074.1L600.04 1074.0L600.24 1073.9L600.44 1073.7L600.64 1073.5L600.84 1073.1L601.04 1072.5L601.24 1071.8L601.44 1071.0L601.64 1069.9L601.84 1068.6L602.04 1067.0L602.24 1065.2L602.44 1063.2L602.64 1061.0L602.84 1058.5L603.04 1055.9L603.24 1053.2L603.44 1050.4L603.64 1047.7L603.84 1045.0L604.04 1042.5L604.24 1040.3L604.44 1038.4L604.64 1036.9L604.84 1035.8L605.04 1035.3L605.24 1035.3L605.44 1035.9L605.64 1037.0L605.84 1038.6L606.04 1040.6L606.24 1043.0L606.44 1045.7L606.64 1048.6L606.84 1051.7L607.04 1054.8L607.24 1057.9L607.44 1061.0L607.64 1063.9L607.84 1066.6L608.04 1069.1L608.24 1071.4L608.44 1073.4L608.64 1075.2L608.84 1076.7L609.04 1078.0L609.24 1079.2L609.44 1080.1L609.64 1080.9L609.84 1081.5L610.04 1082.0L610.24 1082.5L610.44 1082.8L610.64 1083.1L610.84 1083.3M676.94 1076.0L677.14 1076.0L677.34 1076.0L677.54 1076.0L677.74 1075.9L677.94 1075.9L678.14 1075.7L678.34 1075.5L678.54 1075.3L678.74 1074.9L678.94 1074.5L679.14 1073.9L679.34 1073.3L679.54 1072.5L679.74 1071.6L679.94 1070.6L680.14 1069.5L680.34 1068.3L680.54 1067.0L680.74 1065.7L680.94 1064.3L681.14 1062.9L681.34 1061.6L681.54 1060.3L681.74 1059.2L681.94 1058.3L682.14 1057.6L682.34 1057.0L682.54 1056.8L682.74 1056.8L682.94 1057.1L683.14 1057.7L683.34 1058.5L683.54 1059.5L683.74 1060.7L683.94 1062.0L684.14 1063.5L684.34 1065.1L684.54 1066.6L684.74 1068.2L684.94 1069.8L685.14 1071.2L685.34 1072.6L685.54 1073.9L685.74 1075.0L685.94 1076.0L686.14 1076.9L686.34 1077.7L686.54 1078.4L686.74 1079.0L686.94 1079.5L687.14 1079.9L687.34 1080.3L687.54 1080.6L687.74 1080.8L687.94 1081.1L688.14 1081.2L688.34 1081.4M700.14 1081.9L700.34 1081.7L700.54 1081.4L700.74 1081.0L700.94 1080.6L701.14 1080.0L701.34 1079.3L701.54 1078.4L701.74 1077.3L701.94 1075.9L702.14 1074.3L702.34 1072.4L702.54 1070.2L702.74 1067.6L702.94 1064.7L703.14 1061.4L703.34 1057.8L703.54 1053.9L703.74 1049.8L703.94 1045.5L704.14 1041.1L704.34 1036.7L704.54 1032.5L704.74 1028.6L704.94 1025.0L705.14 1021.9L705.34 1019.3L705.54 1017.5L705.74 1016.4L705.94 1016.1L706.14 1016.6L706.34 1017.8L706.54 1019.8L706.74 1022.4L706.94 1025.6L707.14 1029.2L707.34 1033.1L707.54 1037.2L707.74 1041.5L707.94 1045.7L708.14 1049.8L708.34 1053.7L708.54 1057.3L708.74 1060.6L708.94 1063.6L709.14 1066.2L709.34 1068.5L709.54 1070.5L709.74 1072.1L709.94 1073.5L710.14 1074.6L710.34 1075.4L710.54 1076.1L710.74 1076.7L710.94 1077.1L711.14 1077.3L711.34 1077.6L711.54 1077.7M737.92 1082.5L738.12 1082.3L738.32 1082.1L738.52 1081.8L738.72 1081.5L738.92 1081.0L739.12 1080.3L739.32 1079.5L739.52 1078.5L739.72 1077.3L739.92 1075.8L740.12 1074.0L740.32 1071.9L740.52 1069.4L740.72 1066.6L740.92 1063.4L741.12 1059.8L741.32 1055.9L741.52 1051.8L741.72 1047.3L741.92 1042.7L742.12 1038.0L742.32 1033.4L742.52 1028.8L742.72 1024.5L742.92 1020.5L743.12 1017.0L743.32 1014.1L743.52 1011.9L743.72 1010.4L743.92 1009.7L744.12 1009.8L744.32 1010.7L744.52 1012.4L744.72 1014.8L744.92 1017.9L745.12 1021.5L745.32 1025.6L745.52 1030.0L745.72 1034.7L745.92 1039.4L746.12 1044.1L746.32 1048.7L746.52 1053.2L746.72 1057.3L746.92 1061.2L747.12 1064.7L747.32 1067.9L747.52 1070.7L747.72 1073.1L747.92 1075.2L748.12 1077.0L748.32 1078.5L748.52 1079.7L748.72 1080.8L748.92 1081.6L749.12 1082.2L749.32 1082.7L749.52 1083.2L749.72 1083.5L749.92 1083.7M788.64 1077.8L788.84 1077.6L789.04 1077.3L789.24 1077.0L789.44 1076.6L789.64 1076.1L789.84 1075.4L790.04 1074.6L790.24 1073.7L790.44 1072.5L790.64 1071.1L790.84 1069.5L791.04 1067.6L791.24 1065.3L791.44 1062.8L791.64 1059.9L791.84 1056.6L792.04 1052.9L792.24 1048.9L792.44 1044.4L792.64 1039.7L792.84 1034.5L793.04 1029.1L793.24 1023.5L793.44 1017.6L793.64 1011.6L793.84 1005.7L794.04 999.7L794.24 994.0L794.44 988.5L794.64 983.4L794.84 978.7L795.04 974.6L795.24 971.2L795.44 968.5L795.64 966.6L795.84 965.5L796.04 965.3L796.24 965.9L796.44 967.4L796.64 969.6L796.84 972.7L797.04 976.4L797.24 980.8L797.44 985.7L797.64 991.0L797.84 996.7L798.04 1002.5L798.24 1008.5L798.44 1014.6L798.64 1020.5L798.84 1026.4L799.04 1032.0L799.24 1037.4L799.44 1042.4L799.64 1047.1L799.84 1051.5L800.04 1055.4L800.24 1059.0L800.44 1062.2L800.64 1065.1L800.84 1067.6L801.04 1069.8L801.24 1071.7L801.44 1073.3L801.64 1074.8L801.84 1076.0L802.04 1077.0L802.24 1077.9L802.44 1078.7L802.64 1079.4L802.84 1080.0L803.04 1080.5L803.24 1081.0M851.84 1123.2L852.04 1123.2L852.24 1123.2L852.44 1123.1L852.64 1123.0L852.84 1122.9L853.04 1122.7L853.24 1122.5L853.44 1122.2L853.64 1121.9L853.84 1121.4L854.04 1120.9L854.24 1120.2L854.44 1119.5L854.64 1118.6L854.84 1117.7L855.04 1116.6L855.24 1115.4L855.44 1114.2L855.64 1112.9L855.84 1111.6L856.04 1110.3L856.24 1109.0L856.44 1107.8L856.64 1106.8L856.84 1105.9L857.04 1105.1L857.24 1104.6L857.44 1104.3L857.64 1104.3L857.84 1104.5L858.04 1104.9L858.24 1105.6L858.44 1106.5L858.64 1107.5L858.84 1108.7L859.04 1110.0L859.24 1111.3L859.44 1112.7L859.64 1114.1L859.84 1115.4L860.04 1116.7L860.24 1117.9L860.44 1119.0L860.64 1119.9L860.84 1120.8L861.04 1121.6L861.24 1122.3L861.44 1122.8L861.64 1123.3L861.84 1123.7L862.04 1124.0L862.24 1124.3L862.44 1124.5L862.64 1124.7L862.84 1124.8L863.04 1124.9L863.24 1125.0M1064.68 1129.3L1064.88 1129.2L1065.08 1129.1L1065.28 1129.0L1065.48 1128.9L1065.68 1128.7L1065.88 1128.5L1066.08 1128.3L1066.28 1127.9L1066.48 1127.6L1066.68 1127.1L1066.88 1126.6L1067.08 1126.0L1067.28 1125.3L1067.48 1124.5L1067.68 1123.7L1067.88 1122.8L1068.08 1121.8L1068.28 1120.9L1068.48 1119.9L1068.68 1119.0L1068.88 1118.2L1069.08 1117.5L1069.28 1116.9L1069.48 1116.5L1069.68 1116.2L1069.88 1116.1L1070.08 1116.3L1070.28 1116.6L1070.48 1117.0L1070.68 1117.6L1070.88 1118.3L1071.08 1119.1L1071.28 1120.0L1071.48 1120.8L1071.68 1121.7L1071.88 1122.5L1072.08 1123.2L1072.28 1123.9L1072.48 1124.5L1072.68 1125.1L1072.88 1125.5L1073.08 1125.9L1073.28 1126.2L1073.48 1126.4L1073.68 1126.5L1073.88 1126.7L1074.08 1126.8L1074.28 1126.8L1074.48 1126.8L1074.68 1126.8L1074.88 1126.8M1177.58 1126.3L1177.78 1126.3L1177.98 1126.3L1178.18 1126.2L1178.38 1126.0L1178.58 1125.9L1178.78 1125.6L1178.98 1125.3L1179.18 1124.8L1179.38 1124.3L1179.58 1123.6L1179.78 1122.7L1179.98 1121.7L1180.18 1120.6L1180.38 1119.3L1180.58 1117.9L1180.78 1116.4L1180.98 1114.8L1181.18 1113.2L1181.38 1111.5L1181.58 1110.0L1181.78 1108.6L1181.98 1107.4L1182.18 1106.5L1182.38 1105.8L1182.58 1105.5L1182.78 1105.5L1182.98 1105.8L1183.18 1106.5L1183.38 1107.5L1183.58 1108.7L1183.78 1110.2L1183.98 1111.7L1184.18 1113.4L1184.38 1115.1L1184.58 1116.8L1184.78 1118.4L1184.98 1119.9L1185.18 1121.3L1185.38 1122.6L1185.58 1123.7L1185.78 1124.6L1185.98 1125.4L1186.18 1126.1L1186.38 1126.6L1186.58 1127.1L1186.78 1127.4L1186.98 1127.7L1187.18 1127.9L1187.38 1128.1L1187.58 1128.2L1187.78 1128.3" stroke="#0000ff" stroke-width="1.8"/>
</g>
<g stroke="#000" stroke-width="3"><line x1="715.5" y1="805.0" x2="715.5" y2="822.0"/><line x1="877.0" y1="844.5" x2="877.0" y2="862.0"/><line x1="1069.8" y1="1094.0" x2="1069.8" y2="1117.0"/></g>
<g fill="#000"><polygon points="1250.7,121.6 1262.7,121.6 1266.2,125.1 1267.1,128.2 1267.3,133.5 1264.4,137.1 1260.0,140.6 1258.2,143.2 1263.1,144.1 1266.2,141.0 1275.9,140.8 1279.9,145.0 1281.0,148.6 1281.2,154.8 1279.5,157.4 1273.3,161.4 1271.1,163.2 1268.8,160.5 1264.4,159.6 1261.3,156.5 1259.1,154.8 1259.1,165.4 1258.7,168.0 1251.6,168.2 1251.1,166.7 1253.4,164.0 1253.6,154.8 1251.1,156.1 1246.7,160.1 1243.2,160.9 1239.6,163.2 1237.0,160.5 1232.6,158.7 1231.2,154.8 1231.5,145.9 1236.1,141.0 1245.8,140.8 1249.4,144.1 1252.0,144.1 1253.4,142.4 1249.4,139.7 1245.8,136.2 1245.4,128.2 1246.7,125.1"/><path d="M1256.5 236.6Q1267.4 247.7 1276.0 261.1Q1267.4 274.0 1256.5 284.6Q1245.6 274.0 1237.0 261.1Q1245.6 247.7 1256.5 236.6Z"/><polygon points="1255.5,367.1 1253.8,365.8 1253.5,361.8 1251.6,356.9 1246.2,353.9 1243.6,353.0 1238.3,355.6 1235.2,359.6 1234.7,373.3 1237.4,378.6 1243.6,385.3 1245.8,389.7 1251.6,396.3 1255.1,402.5 1256.0,402.5 1259.1,398.1 1262.6,393.2 1269.7,383.9 1275.5,378.6 1278.1,372.4 1278.8,365.8 1277.7,361.4 1275.5,356.5 1271.5,355.2 1267.9,353.2 1264.8,354.3 1260.4,356.5 1258.2,360.9 1257.8,366.2"/><circle cx="1256.5" cy="501.8" r="16.0"/><polygon points="587.7,696.7 586.2,695.7 586.1,692.6 584.4,688.9 579.9,686.6 577.7,685.9 573.2,687.9 570.6,690.9 570.2,701.4 572.5,705.4 577.7,710.5 579.5,713.8 584.4,718.9 587.4,723.6 588.1,723.6 590.7,720.2 593.7,716.5 599.6,709.4 604.5,705.4 606.7,700.7 607.3,695.7 606.3,692.3 604.5,688.6 601.1,687.6 598.1,686.1 595.5,686.9 591.8,688.6 590.0,692.0 589.6,696.0"/><polygon points="663.9,677.1 662.3,676.1 662.1,673.0 660.4,669.3 655.8,666.9 653.4,666.2 648.8,668.2 646.1,671.3 645.7,681.9 648.0,686.0 653.4,691.1 655.4,694.5 660.4,699.6 663.5,704.4 664.3,704.4 667.0,701.0 670.1,697.2 676.3,690.1 681.3,686.0 683.6,681.2 684.2,676.1 683.2,672.7 681.3,668.9 677.8,667.9 674.7,666.4 672.0,667.2 668.1,668.9 666.2,672.3 665.8,676.4"/><circle cx="719.0" cy="792.2" r="13.5"/><circle cx="877.2" cy="832.2" r="13.5"/><polygon points="925.9,770.6 936.0,770.6 938.9,773.6 939.7,776.2 939.9,780.6 937.5,783.6 933.7,786.6 932.2,788.8 936.3,789.5 938.9,786.9 947.1,786.8 950.5,790.3 951.4,793.2 951.6,798.4 950.1,800.7 944.9,804.0 943.0,805.5 941.2,803.3 937.5,802.5 934.9,799.9 933.0,798.4 933.0,807.3 932.6,809.6 926.7,809.8 926.3,808.5 928.2,806.2 928.3,798.4 926.3,799.6 922.6,802.9 919.6,803.6 916.6,805.5 914.4,803.3 910.7,801.8 909.6,798.4 909.8,791.0 913.7,786.9 921.8,786.8 924.8,789.5 927.0,789.5 928.2,788.1 924.8,785.8 921.8,782.9 921.5,776.2 922.6,773.6"/><path d="M972.5 767.8Q981.5 777.3 988.5 788.7Q981.5 799.7 972.5 808.8Q963.5 799.7 956.5 788.7Q963.5 777.3 972.5 767.8Z"/><path d="M1327.7 814.2Q1336.9 823.2 1344.2 834.1Q1336.9 844.6 1327.7 853.2Q1318.5 844.6 1311.2 834.1Q1318.5 823.2 1327.7 814.2Z"/><polygon points="581.8,816.7 580.2,815.7 580.0,812.6 578.3,808.9 573.7,806.5 571.3,805.8 566.7,807.8 564.0,810.9 563.6,821.5 565.9,825.6 571.3,830.7 573.3,834.1 578.3,839.2 581.4,844.0 582.2,844.0 584.9,840.6 588.0,836.8 594.2,829.7 599.2,825.6 601.5,820.8 602.1,815.7 601.1,812.3 599.2,808.5 595.7,807.5 592.6,806.0 589.9,806.8 586.0,808.5 584.1,811.9 583.7,816.0"/><polygon points="554.7,1012.2 564.5,1012.2 567.4,1015.1 568.2,1017.6 568.4,1021.9 566.0,1024.7 562.4,1027.6 560.9,1029.7 564.9,1030.5 567.4,1028.0 575.4,1027.8 578.7,1031.2 579.6,1034.0 579.8,1039.0 578.3,1041.2 573.3,1044.4 571.4,1045.8 569.6,1043.7 566.0,1043.0 563.5,1040.5 561.6,1039.0 561.6,1047.6 561.3,1049.8 555.5,1050.0 555.1,1048.7 556.9,1046.6 557.1,1039.0 555.1,1040.1 551.5,1043.3 548.6,1044.1 545.7,1045.8 543.5,1043.7 539.9,1042.3 538.8,1039.0 539.0,1031.9 542.8,1028.0 550.8,1027.8 553.7,1030.5 555.8,1030.5 556.9,1029.0 553.7,1026.9 550.8,1024.0 550.4,1017.6 551.5,1015.1"/><polygon points="607.0,999.5 605.5,998.5 605.3,995.4 603.6,991.7 599.0,989.4 596.7,988.7 592.1,990.7 589.4,993.7 589.0,1004.2 591.3,1008.2 596.7,1013.3 598.6,1016.6 603.6,1021.7 606.6,1026.4 607.4,1026.4 610.1,1023.0 613.1,1019.3 619.2,1012.2 624.2,1008.2 626.5,1003.5 627.1,998.5 626.1,995.1 624.2,991.4 620.8,990.4 617.7,988.9 615.0,989.7 611.2,991.4 609.3,994.8 608.9,998.8"/><polygon points="683.5,1021.5 682.0,1020.5 681.8,1017.4 680.1,1013.7 675.5,1011.4 673.2,1010.7 668.6,1012.7 665.9,1015.7 665.5,1026.2 667.8,1030.2 673.2,1035.3 675.1,1038.6 680.1,1043.7 683.1,1048.4 683.9,1048.4 686.6,1045.0 689.6,1041.3 695.7,1034.2 700.7,1030.2 703.0,1025.5 703.6,1020.5 702.6,1017.1 700.7,1013.4 697.3,1012.4 694.2,1010.9 691.5,1011.7 687.7,1013.4 685.8,1016.8 685.4,1020.8"/><circle cx="708.0" cy="1002.0" r="12.8"/><polygon points="739.6,967.9 749.9,967.9 752.9,971.1 753.7,973.8 753.9,978.5 751.4,981.6 747.6,984.8 746.1,987.1 750.3,987.9 752.9,985.2 761.3,985.0 764.7,988.7 765.7,991.8 765.9,997.3 764.3,999.7 759.0,1003.2 757.1,1004.7 755.2,1002.4 751.4,1001.6 748.7,998.9 746.8,997.3 746.8,1006.7 746.5,1009.1 740.4,1009.3 740.0,1007.9 741.9,1005.5 742.1,997.3 740.0,998.5 736.2,1002.0 733.1,1002.8 730.1,1004.7 727.8,1002.4 724.0,1000.8 722.9,997.3 723.1,989.5 727.1,985.2 735.4,985.0 738.5,987.9 740.8,987.9 741.9,986.3 738.5,984.0 735.4,980.9 735.0,973.8 736.2,971.1"/><polygon points="792.2,920.5 802.1,920.5 805.1,923.7 805.8,926.4 806.0,931.1 803.6,934.2 799.9,937.4 798.4,939.7 802.5,940.5 805.1,937.8 813.2,937.6 816.5,941.3 817.4,944.4 817.6,949.9 816.1,952.3 811.0,955.8 809.1,957.3 807.3,955.0 803.6,954.2 801.0,951.5 799.2,949.9 799.2,959.3 798.8,961.7 792.9,961.9 792.5,960.5 794.4,958.1 794.6,949.9 792.5,951.1 788.9,954.6 785.9,955.4 783.0,957.3 780.8,955.0 777.1,953.4 776.0,949.9 776.2,942.1 780.0,937.8 788.1,937.6 791.1,940.5 793.3,940.5 794.4,938.9 791.1,936.6 788.1,933.5 787.8,926.4 788.9,923.7"/><circle cx="861.2" cy="1085.0" r="13.5"/><polygon points="903.8,1030.0 913.6,1030.0 916.5,1033.2 917.3,1036.0 917.5,1040.7 915.1,1043.9 911.5,1047.0 910.0,1049.4 914.0,1050.2 916.5,1047.4 924.5,1047.2 927.8,1051.0 928.7,1054.2 928.9,1059.7 927.4,1062.1 922.4,1065.6 920.5,1067.2 918.7,1064.8 915.1,1064.0 912.6,1061.3 910.7,1059.7 910.7,1069.2 910.4,1071.6 904.6,1071.8 904.2,1070.4 906.0,1068.0 906.2,1059.7 904.2,1060.9 900.6,1064.4 897.7,1065.2 894.8,1067.2 892.6,1064.8 889.0,1063.3 887.9,1059.7 888.1,1051.8 891.9,1047.4 899.9,1047.2 902.8,1050.2 904.9,1050.2 906.0,1048.6 902.8,1046.2 899.9,1043.1 899.5,1036.0 900.6,1033.2"/><path d="M958.8 1037.0Q967.8 1046.2 974.8 1057.4Q967.8 1068.2 958.8 1077.0Q949.8 1068.2 942.8 1057.4Q949.8 1046.2 958.8 1037.0Z"/><polygon points="1069.7,1067.8 1068.1,1066.8 1067.9,1063.7 1066.1,1060.0 1061.4,1057.6 1059.1,1056.9 1054.4,1058.9 1051.6,1062.0 1051.2,1072.6 1053.6,1076.7 1059.1,1081.8 1061.0,1085.2 1066.1,1090.3 1069.3,1095.1 1070.1,1095.1 1072.8,1091.7 1075.9,1087.9 1082.2,1080.8 1087.3,1076.7 1089.7,1071.9 1090.3,1066.8 1089.3,1063.4 1087.3,1059.6 1083.8,1058.6 1080.7,1057.1 1077.9,1057.9 1074.0,1059.6 1072.0,1063.0 1071.6,1067.1"/><polygon points="1180.7,1060.5 1191.2,1060.5 1194.3,1063.5 1195.1,1066.2 1195.3,1070.7 1192.8,1073.7 1188.9,1076.7 1187.3,1079.0 1191.6,1079.7 1194.3,1077.1 1202.9,1076.9 1206.4,1080.5 1207.4,1083.5 1207.6,1088.8 1206.0,1091.0 1200.6,1094.4 1198.6,1095.9 1196.7,1093.7 1192.8,1092.9 1190.0,1090.3 1188.1,1088.8 1188.1,1097.8 1187.7,1100.1 1181.5,1100.3 1181.1,1098.9 1183.0,1096.7 1183.2,1088.8 1181.1,1089.9 1177.2,1093.3 1174.1,1094.0 1171.0,1095.9 1168.6,1093.7 1164.7,1092.2 1163.6,1088.8 1163.8,1081.2 1167.8,1077.1 1176.4,1076.9 1179.5,1079.7 1181.9,1079.7 1183.0,1078.2 1179.5,1076.0 1176.4,1073.0 1176.0,1066.2 1177.2,1063.5"/><polygon points="1362.2,1032.7 1372.0,1032.7 1374.9,1035.8 1375.7,1038.5 1375.9,1043.2 1373.5,1046.2 1369.9,1049.3 1368.4,1051.6 1372.4,1052.4 1374.9,1049.7 1382.9,1049.5 1386.2,1053.2 1387.1,1056.3 1387.3,1061.7 1385.8,1064.0 1380.8,1067.5 1378.9,1069.0 1377.1,1066.7 1373.5,1065.9 1371.0,1063.2 1369.1,1061.7 1369.1,1070.9 1368.8,1073.3 1363.0,1073.5 1362.6,1072.1 1364.4,1069.8 1364.6,1061.7 1362.6,1062.8 1359.0,1066.3 1356.1,1067.1 1353.2,1069.0 1351.0,1066.7 1347.4,1065.2 1346.3,1061.7 1346.5,1054.0 1350.3,1049.7 1358.3,1049.5 1361.2,1052.4 1363.3,1052.4 1364.4,1050.9 1361.2,1048.6 1358.3,1045.5 1357.9,1038.5 1359.0,1035.8"/></g>
<g fill="#000">
<rect x="130" y="29" width="8" height="1189"/>
<rect x="130" y="29" width="1615" height="6"/>
<rect x="1739" y="29" width="6" height="1189"/>
<rect x="130" y="1212.5" width="1615" height="5.5"/>
<rect x="252.7" y="1216" width="5.6" height="27" rx="1"/><rect x="463.0" y="1216" width="5.6" height="27" rx="1"/><rect x="673.3" y="1216" width="5.6" height="27" rx="1"/><rect x="883.6" y="1216" width="5.6" height="27" rx="1"/><rect x="1093.9" y="1216" width="5.6" height="27" rx="1"/><rect x="1304.2" y="1216" width="5.6" height="27" rx="1"/><rect x="1514.5" y="1216" width="5.6" height="27" rx="1"/><rect x="1724.8" y="1216" width="5.6" height="27" rx="1"/><rect x="146.6" y="1216" width="7.5" height="13" rx="1"/><rect x="356.9" y="1216" width="7.5" height="13" rx="1"/><rect x="567.2" y="1216" width="7.5" height="13" rx="1"/><rect x="777.5" y="1216" width="7.5" height="13" rx="1"/><rect x="987.8" y="1216" width="7.5" height="13" rx="1"/><rect x="1198.1" y="1216" width="7.5" height="13" rx="1"/><rect x="1408.4" y="1216" width="7.5" height="13" rx="1"/><rect x="1618.7" y="1216" width="7.5" height="13" rx="1"/>
</g>
<g font-size="88" fill="#000" stroke="#000" stroke-width="0.9"><text x="255.5" y="1329.3" text-anchor="middle">10</text><text x="465.8" y="1329.3" text-anchor="middle">20</text><text x="676.1" y="1329.3" text-anchor="middle">30</text><text x="886.4" y="1329.3" text-anchor="middle">40</text><text x="1096.7" y="1329.3" text-anchor="middle">50</text><text x="1307.0" y="1329.3" text-anchor="middle">60</text><text x="1517.3" y="1329.3" text-anchor="middle">70</text><text x="1727.6" y="1329.3" text-anchor="middle">80</text></g>
<text x="767" y="1429.5" font-size="86" textLength="343" lengthAdjust="spacingAndGlyphs" fill="#000" stroke="#000" stroke-width="0.8">2θ/degree</text>
<text transform="translate(86.5 885) rotate(-90)" font-size="86.9" font-weight="bold" fill="#000">Intensity(a.u.)</text>
<g font-size="87" fill="#000" stroke="#000" stroke-width="0.8">
<text x="1290" y="168.3">hematite</text>
<text x="1288" y="284.7">mullite</text>
<text x="1290" y="402">quartz</text>
<text x="1299" y="527">calcite</text>
</g>
<text x="1590" y="674.4" font-size="72" fill="#ff0000" stroke="#6a0000" stroke-width="1.0">RC</text>
<text x="1596" y="863.4" font-size="72" fill="#000" stroke="#000" stroke-width="0.8">FS</text>
<text x="1597" y="1111.6" font-size="72" fill="#0000ff" stroke="#0000c0" stroke-width="0.8">SP</text>
</svg>
</body></html>
